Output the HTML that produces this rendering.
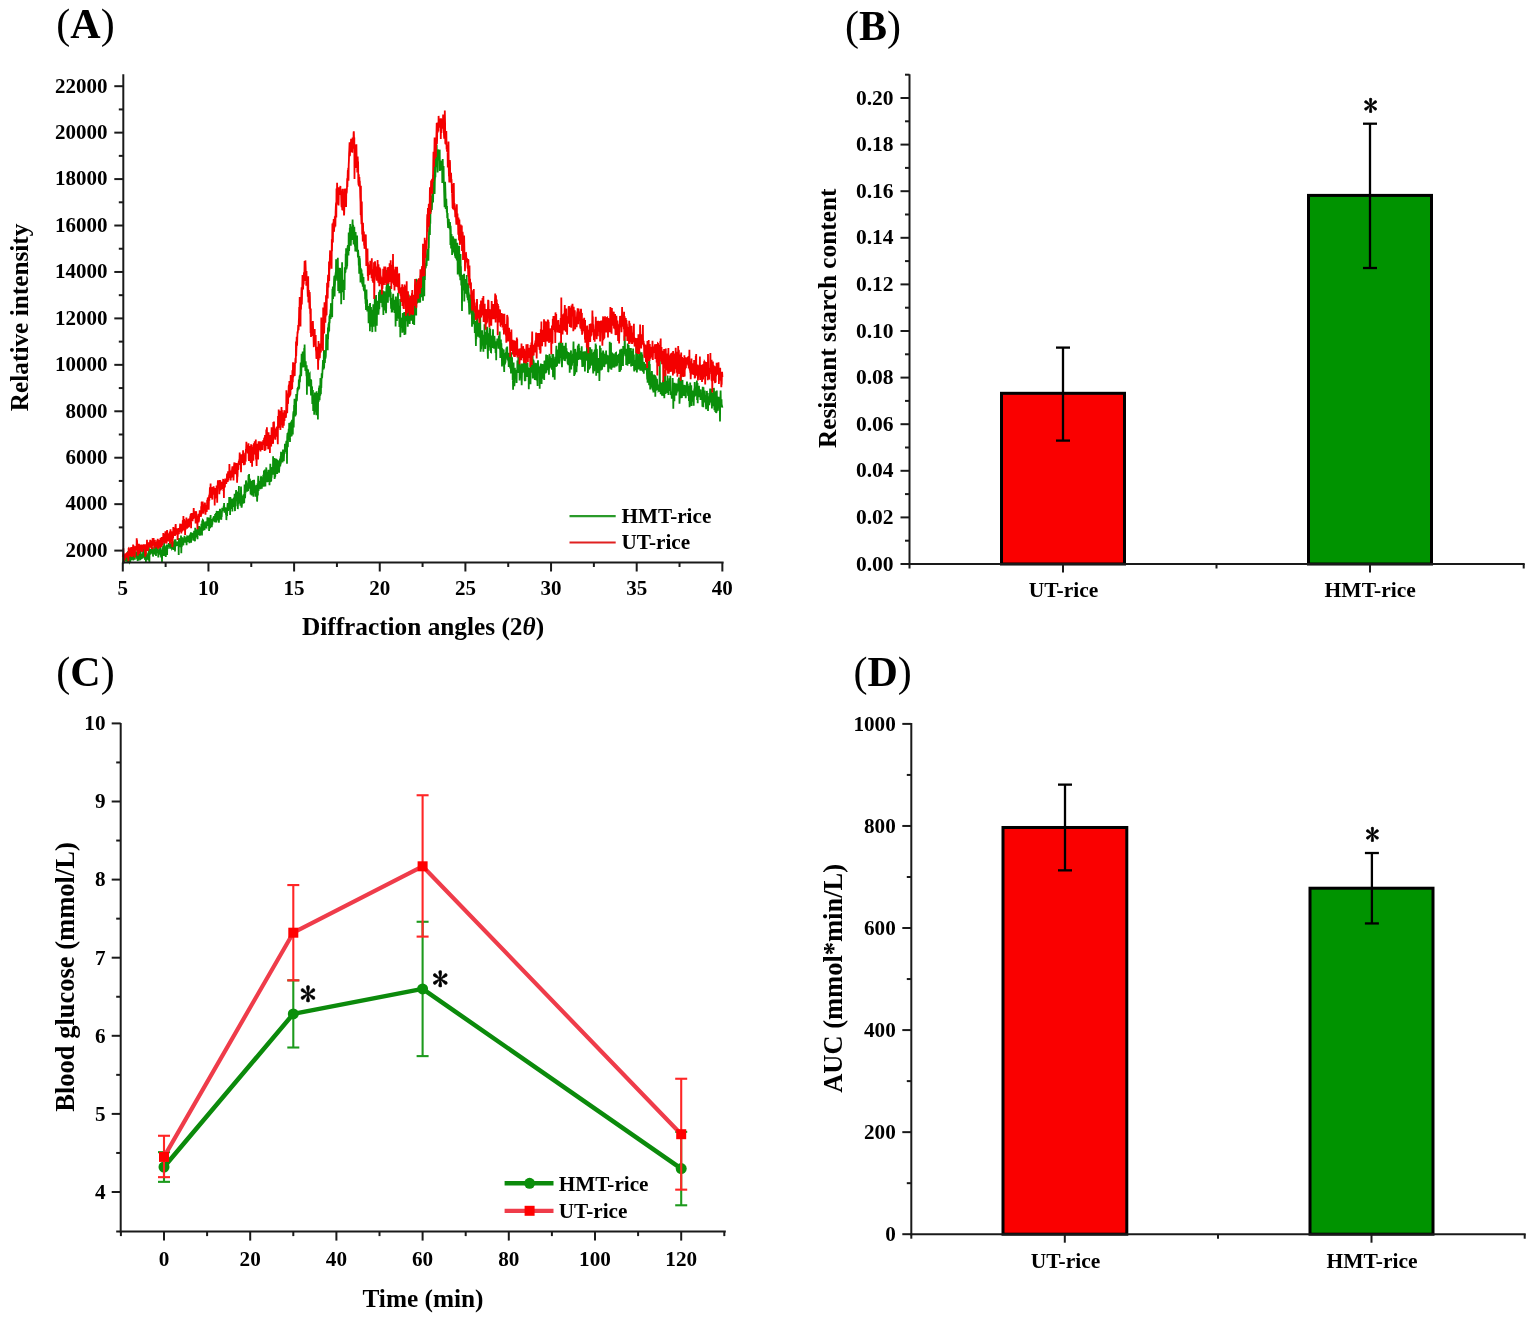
<!DOCTYPE html>
<html><head><meta charset="utf-8"><title>Figure</title>
<style>html,body{margin:0;padding:0;background:#fff;}svg{display:block}
text{font-family:'Liberation Serif','Times New Roman',serif;font-weight:bold;fill:#000}</style></head>
<body><svg width="1535" height="1324" viewBox="0 0 1535 1324">
<rect width="1535" height="1324" fill="#fff"/>
<g fill="none" stroke-linejoin="miter">
<path d="M122.8 561.6 123.0 562.0 123.2 561.3 123.4 555.9 123.7 562.0 123.9 561.0 124.1 557.8 124.3 561.4 124.5 560.6 124.7 560.6 124.9 558.9 125.2 560.5 125.4 556.1 125.6 558.2 125.8 557.4 126.0 561.5 126.2 558.5 126.4 557.4 126.7 556.1 126.9 558.0 127.1 558.6 127.3 558.0 127.5 562.0 127.7 562.0 127.9 551.2 128.2 553.5 128.4 558.8 128.6 558.6 128.8 561.1 129.0 561.7 129.2 562.0 129.4 556.4 129.7 558.3 129.9 562.0 130.1 562.0 130.3 561.6 130.5 557.2 130.7 554.1 130.9 559.9 131.2 559.0 131.4 554.6 131.6 556.5 131.8 558.5 132.0 555.9 132.2 558.5 132.4 558.3 132.6 557.0 132.9 555.3 133.1 559.4 133.3 560.4 133.5 558.0 133.7 554.5 133.9 559.3 134.1 555.7 134.4 559.7 134.6 553.2 134.8 559.6 135.0 556.4 135.2 551.4 135.4 554.4 135.6 555.5 135.9 553.7 136.1 552.8 136.3 552.9 136.5 556.8 136.7 554.7 136.9 557.1 137.1 559.2 137.4 551.0 137.6 560.3 137.8 560.8 138.0 555.8 138.2 556.6 138.4 558.8 138.6 557.0 138.9 560.4 139.1 556.2 139.3 552.4 139.5 556.2 139.7 554.1 139.9 558.1 140.1 556.9 140.4 550.5 140.6 549.9 140.8 558.7 141.0 558.5 141.2 553.9 141.4 555.9 141.6 557.2 141.9 554.1 142.1 558.8 142.3 556.4 142.5 554.4 142.7 554.0 142.9 557.7 143.1 548.1 143.4 555.7 143.6 555.8 143.8 550.9 144.0 557.0 144.2 553.7 144.4 558.4 144.6 554.8 144.9 557.9 145.1 559.9 145.3 557.1 145.5 552.8 145.7 551.4 145.9 562.0 146.1 556.7 146.4 554.5 146.6 557.7 146.8 556.4 147.0 559.8 147.2 557.4 147.4 556.8 147.6 554.3 147.9 557.8 148.1 552.8 148.3 558.1 148.5 560.5 148.7 550.6 148.9 546.9 149.1 557.3 149.4 562.0 149.6 550.0 149.8 549.0 150.0 554.8 150.2 549.9 150.4 551.3 150.6 551.5 150.9 554.2 151.1 550.8 151.3 552.8 151.5 550.9 151.7 548.9 151.9 550.7 152.1 549.4 152.3 551.9 152.6 548.5 152.8 548.3 153.0 556.6 153.2 552.2 153.4 552.6 153.6 554.8 153.8 551.9 154.1 551.6 154.3 553.9 154.5 553.4 154.7 548.4 154.9 554.5 155.1 550.5 155.3 548.3 155.6 548.8 155.8 549.6 156.0 555.9 156.2 546.7 156.4 551.4 156.6 544.3 156.8 550.2 157.1 553.2 157.3 549.3 157.5 548.1 157.7 551.0 157.9 552.1 158.1 551.8 158.3 557.5 158.6 554.3 158.8 549.3 159.0 551.5 159.2 551.9 159.4 552.8 159.6 552.6 159.8 553.1 160.1 546.5 160.3 554.8 160.5 551.3 160.7 549.5 160.9 554.9 161.1 557.4 161.3 554.7 161.6 555.8 161.8 550.4 162.0 562.0 162.2 554.0 162.4 547.6 162.6 548.7 162.8 551.5 163.1 545.7 163.3 552.1 163.5 549.8 163.7 555.8 163.9 554.8 164.1 542.6 164.3 550.9 164.6 545.2 164.8 553.6 165.0 550.7 165.2 551.5 165.4 546.3 165.6 555.7 165.8 556.9 166.1 546.5 166.3 551.3 166.5 546.9 166.7 548.9 166.9 544.5 167.1 554.9 167.3 545.3 167.6 547.1 167.8 548.9 168.0 544.7 168.2 546.4 168.4 545.4 168.6 547.1 168.8 543.1 169.1 544.7 169.3 545.5 169.5 544.6 169.7 546.2 169.9 544.6 170.1 548.7 170.3 544.8 170.5 545.0 170.8 543.5 171.0 544.3 171.2 542.0 171.4 548.5 171.6 543.3 171.8 544.7 172.0 548.4 172.3 548.0 172.5 545.5 172.7 541.0 172.9 549.0 173.1 548.5 173.3 542.3 173.5 550.0 173.8 544.4 174.0 542.9 174.2 546.8 174.4 545.3 174.6 545.9 174.8 539.6 175.0 551.4 175.3 543.0 175.5 539.3 175.7 546.4 175.9 543.0 176.1 545.5 176.3 542.5 176.5 543.5 176.8 545.3 177.0 541.6 177.2 545.9 177.4 542.8 177.6 541.9 177.8 544.6 178.0 545.3 178.3 543.5 178.5 541.4 178.7 555.0 178.9 538.1 179.1 539.8 179.3 543.4 179.5 538.8 179.8 543.3 180.0 543.6 180.2 547.2 180.4 540.6 180.6 542.3 180.8 545.4 181.0 535.4 181.3 553.3 181.5 541.4 181.7 541.9 181.9 546.6 182.1 543.2 182.3 537.3 182.5 544.3 182.8 545.5 183.0 541.0 183.2 541.3 183.4 545.2 183.6 538.8 183.8 542.6 184.0 541.8 184.3 538.7 184.5 535.8 184.7 539.9 184.9 537.2 185.1 542.8 185.3 539.9 185.5 541.9 185.8 539.7 186.0 540.3 186.2 537.3 186.4 542.2 186.6 545.1 186.8 538.0 187.0 537.1 187.3 537.7 187.5 536.4 187.7 535.7 187.9 537.8 188.1 536.3 188.3 541.9 188.5 537.9 188.8 538.9 189.0 541.8 189.2 537.5 189.4 543.2 189.6 536.0 189.8 535.0 190.0 536.3 190.2 538.0 190.5 533.6 190.7 538.4 190.9 532.2 191.1 542.8 191.3 537.3 191.5 535.4 191.7 534.2 192.0 536.5 192.2 536.4 192.4 533.6 192.6 532.8 192.8 535.1 193.0 534.3 193.2 539.7 193.5 540.4 193.7 536.4 193.9 537.4 194.1 530.9 194.3 537.2 194.5 536.1 194.7 537.9 195.0 541.3 195.2 527.7 195.4 536.2 195.6 536.0 195.8 537.3 196.0 530.1 196.2 532.7 196.5 535.2 196.7 536.6 196.9 533.8 197.1 530.7 197.3 530.9 197.5 539.3 197.7 532.1 198.0 526.2 198.2 535.0 198.4 532.7 198.6 534.9 198.8 530.3 199.0 534.6 199.2 526.0 199.5 533.3 199.7 529.8 199.9 535.6 200.1 534.9 200.3 527.3 200.5 529.7 200.7 529.2 201.0 533.2 201.2 530.9 201.4 523.9 201.6 529.7 201.8 530.0 202.0 535.5 202.2 520.6 202.5 527.3 202.7 531.0 202.9 520.2 203.1 520.4 203.3 526.2 203.5 527.1 203.7 521.4 204.0 526.2 204.2 524.8 204.4 530.2 204.6 525.2 204.8 529.5 205.0 522.4 205.2 525.1 205.5 524.8 205.7 528.0 205.9 526.1 206.1 521.4 206.3 526.8 206.5 527.1 206.7 524.2 207.0 523.3 207.2 523.9 207.4 517.2 207.6 524.5 207.8 524.4 208.0 520.0 208.2 525.9 208.5 517.6 208.7 521.0 208.9 521.3 209.1 530.9 209.3 517.9 209.5 526.8 209.7 527.7 209.9 525.2 210.2 528.3 210.4 519.1 210.6 515.0 210.8 526.8 211.0 519.1 211.2 522.1 211.4 519.0 211.7 527.0 211.9 525.6 212.1 519.2 212.3 524.8 212.5 521.1 212.7 520.0 212.9 519.7 213.2 517.6 213.4 520.3 213.6 519.3 213.8 516.3 214.0 521.5 214.2 516.0 214.4 516.7 214.7 517.7 214.9 522.0 215.1 513.9 215.3 522.5 215.5 516.5 215.7 515.1 215.9 513.0 216.2 518.2 216.4 522.4 216.6 511.7 216.8 511.0 217.0 513.5 217.2 517.9 217.4 519.5 217.7 520.3 217.9 518.6 218.1 516.9 218.3 513.6 218.5 511.0 218.7 517.9 218.9 522.7 219.2 516.8 219.4 511.5 219.6 512.7 219.8 510.2 220.0 508.9 220.2 511.5 220.4 513.1 220.7 519.1 220.9 512.6 221.1 518.3 221.3 519.8 221.5 511.6 221.7 516.9 221.9 512.8 222.2 507.7 222.4 510.5 222.6 509.7 222.8 509.7 223.0 509.2 223.2 510.4 223.4 511.1 223.7 505.8 223.9 508.8 224.1 503.1 224.3 510.6 224.5 512.6 224.7 510.5 224.9 510.7 225.2 512.6 225.4 507.4 225.6 509.4 225.8 512.8 226.0 514.7 226.2 512.0 226.4 520.1 226.7 510.0 226.9 515.0 227.1 515.0 227.3 508.7 227.5 505.3 227.7 503.1 227.9 509.2 228.1 511.0 228.4 506.6 228.6 507.3 228.8 504.6 229.0 508.5 229.2 497.1 229.4 506.3 229.6 505.1 229.9 499.7 230.1 514.9 230.3 497.1 230.5 498.6 230.7 499.1 230.9 509.1 231.1 500.5 231.4 507.3 231.6 505.8 231.8 504.6 232.0 498.7 232.2 500.3 232.4 511.4 232.6 498.8 232.9 500.5 233.1 503.7 233.3 507.0 233.5 503.7 233.7 505.2 233.9 497.5 234.1 506.0 234.4 504.1 234.6 493.8 234.8 507.9 235.0 511.1 235.2 497.9 235.4 501.7 235.6 506.4 235.9 494.1 236.1 490.1 236.3 493.4 236.5 495.6 236.7 494.8 236.9 500.9 237.1 491.5 237.4 492.7 237.6 501.1 237.8 509.1 238.0 503.9 238.2 503.4 238.4 503.0 238.6 502.8 238.9 485.9 239.1 501.4 239.3 497.9 239.5 503.3 239.7 500.2 239.9 493.2 240.1 499.7 240.4 505.6 240.6 494.4 240.8 497.4 241.0 486.6 241.2 494.0 241.4 506.2 241.6 507.7 241.9 505.2 242.1 501.7 242.3 498.8 242.5 499.9 242.7 495.4 242.9 502.9 243.1 502.9 243.4 501.7 243.6 494.3 243.8 496.5 244.0 495.0 244.2 503.3 244.4 494.6 244.6 484.4 244.9 493.8 245.1 498.2 245.3 492.3 245.5 493.5 245.7 489.7 245.9 480.6 246.1 481.0 246.4 483.0 246.6 488.0 246.8 489.4 247.0 491.8 247.2 486.5 247.4 491.4 247.6 485.1 247.8 483.6 248.1 490.9 248.3 483.4 248.5 474.9 248.7 483.2 248.9 488.8 249.1 474.0 249.3 486.0 249.6 486.7 249.8 482.0 250.0 481.6 250.2 485.9 250.4 486.1 250.6 494.6 250.8 490.0 251.1 480.9 251.3 482.7 251.5 490.0 251.7 495.5 251.9 488.9 252.1 488.9 252.3 495.4 252.6 487.1 252.8 484.6 253.0 480.1 253.2 484.4 253.4 496.8 253.6 480.9 253.8 487.2 254.1 479.9 254.3 486.7 254.5 490.6 254.7 486.3 254.9 492.1 255.1 492.3 255.3 492.1 255.6 496.8 255.8 492.1 256.0 487.8 256.2 485.6 256.4 485.2 256.6 490.4 256.8 487.9 257.1 501.6 257.3 496.4 257.5 485.9 257.7 486.2 257.9 495.6 258.1 479.2 258.3 475.9 258.6 491.0 258.8 481.4 259.0 480.9 259.2 483.0 259.4 488.0 259.6 485.1 259.8 485.5 260.1 486.2 260.3 485.3 260.5 489.2 260.7 479.8 260.9 477.3 261.1 476.9 261.3 477.1 261.6 481.7 261.8 488.8 262.0 485.2 262.2 481.4 262.4 478.6 262.6 481.6 262.8 480.8 263.1 478.9 263.3 474.7 263.5 479.4 263.7 486.8 263.9 470.6 264.1 479.2 264.3 470.6 264.6 481.1 264.8 476.7 265.0 469.4 265.2 478.9 265.4 486.6 265.6 477.1 265.8 481.6 266.0 476.6 266.3 467.4 266.5 480.6 266.7 476.8 266.9 471.8 267.1 482.1 267.3 479.0 267.5 474.9 267.8 482.0 268.0 473.8 268.2 479.7 268.4 469.8 268.6 479.0 268.8 471.4 269.0 482.1 269.3 479.4 269.5 485.3 269.7 473.5 269.9 476.1 270.1 481.2 270.3 463.8 270.5 472.2 270.8 482.0 271.0 479.5 271.2 481.3 271.4 474.2 271.6 477.6 271.8 472.9 272.0 468.6 272.3 467.1 272.5 472.7 272.7 471.4 272.9 471.2 273.1 456.3 273.3 463.8 273.5 474.7 273.8 472.8 274.0 467.7 274.2 465.3 274.4 458.0 274.6 478.9 274.8 464.2 275.0 477.3 275.3 476.0 275.5 468.4 275.7 464.8 275.9 468.1 276.1 460.8 276.3 458.7 276.5 465.4 276.8 468.4 277.0 471.0 277.2 474.0 277.4 463.8 277.6 471.6 277.8 461.1 278.0 461.3 278.3 463.0 278.5 460.5 278.7 470.8 278.9 471.4 279.1 472.7 279.3 464.9 279.5 465.3 279.8 461.0 280.0 458.5 280.2 466.4 280.4 464.5 280.6 456.3 280.8 464.2 281.0 451.8 281.3 458.5 281.5 457.5 281.7 456.2 281.9 452.4 282.1 462.0 282.3 459.2 282.5 462.4 282.8 457.2 283.0 449.6 283.2 455.2 283.4 450.2 283.6 459.2 283.8 461.2 284.0 456.2 284.3 450.7 284.5 452.2 284.7 453.7 284.9 443.8 285.1 450.9 285.3 451.9 285.5 447.2 285.7 447.4 286.0 449.3 286.2 442.4 286.4 441.0 286.6 449.1 286.8 444.8 287.0 463.8 287.2 437.3 287.5 433.1 287.7 446.9 287.9 446.4 288.1 436.5 288.3 431.8 288.5 439.7 288.7 428.7 289.0 434.3 289.2 423.0 289.4 432.8 289.6 422.8 289.8 432.4 290.0 441.9 290.2 432.3 290.5 437.1 290.7 428.4 290.9 425.5 291.1 421.6 291.3 435.4 291.5 428.3 291.7 436.3 292.0 419.7 292.2 423.8 292.4 425.4 292.6 433.7 292.8 434.5 293.0 419.2 293.2 414.6 293.5 411.3 293.7 427.6 293.9 416.9 294.1 405.1 294.3 414.1 294.5 398.7 294.7 400.8 295.0 416.5 295.2 411.9 295.4 416.2 295.6 400.7 295.8 409.2 296.0 414.9 296.2 393.9 296.5 401.5 296.7 397.2 296.9 400.8 297.1 395.8 297.3 394.1 297.5 388.0 297.7 391.4 298.0 386.9 298.2 388.3 298.4 387.2 298.6 389.7 298.8 380.3 299.0 380.3 299.2 388.7 299.5 377.9 299.7 375.7 299.9 382.3 300.1 377.1 300.3 374.6 300.5 374.1 300.7 362.5 301.0 371.9 301.2 376.1 301.4 369.9 301.6 353.7 301.8 363.6 302.0 354.7 302.2 356.8 302.5 358.9 302.7 351.4 302.9 367.5 303.1 357.9 303.3 363.9 303.5 362.5 303.7 365.8 303.9 365.9 304.2 348.0 304.4 359.4 304.6 344.4 304.8 356.9 305.0 365.8 305.2 367.3 305.4 370.9 305.7 361.3 305.9 366.6 306.1 366.6 306.3 373.1 306.5 376.3 306.7 365.2 306.9 394.7 307.2 370.3 307.4 368.9 307.6 374.6 307.8 376.2 308.0 374.8 308.2 369.5 308.4 385.2 308.7 374.3 308.9 385.4 309.1 386.3 309.3 378.8 309.5 374.1 309.7 373.8 309.9 384.1 310.2 383.8 310.4 386.1 310.6 379.0 310.8 388.5 311.0 395.5 311.2 379.7 311.4 386.9 311.7 391.7 311.9 389.1 312.1 388.8 312.3 404.0 312.5 402.5 312.7 400.3 312.9 389.9 313.2 411.1 313.4 400.6 313.6 394.7 313.8 397.4 314.0 397.1 314.2 414.7 314.4 403.5 314.7 405.3 314.9 392.4 315.1 411.7 315.3 400.4 315.5 400.2 315.7 411.0 315.9 401.8 316.2 412.4 316.4 415.3 316.6 391.3 316.8 406.2 317.0 404.3 317.2 406.2 317.4 412.5 317.7 397.7 317.9 419.4 318.1 401.3 318.3 393.1 318.5 398.2 318.7 401.9 318.9 387.7 319.2 395.5 319.4 385.4 319.6 400.2 319.8 392.8 320.0 386.5 320.2 395.7 320.4 378.1 320.7 382.2 320.9 394.3 321.1 379.1 321.3 388.1 321.5 380.1 321.7 373.4 321.9 376.1 322.2 376.4 322.4 372.7 322.6 368.2 322.8 365.2 323.0 360.0 323.2 364.1 323.4 368.9 323.6 369.4 323.9 349.9 324.1 368.2 324.3 361.2 324.5 350.5 324.7 360.0 324.9 362.9 325.1 358.4 325.4 358.3 325.6 357.6 325.8 356.2 326.0 348.7 326.2 334.2 326.4 342.6 326.6 348.2 326.9 340.7 327.1 346.0 327.3 346.6 327.5 339.1 327.7 350.2 327.9 327.4 328.1 339.2 328.4 327.3 328.6 323.6 328.8 332.2 329.0 322.0 329.2 331.1 329.4 315.8 329.6 323.3 329.9 314.4 330.1 317.3 330.3 314.0 330.5 309.6 330.7 319.0 330.9 303.9 331.1 303.5 331.4 314.6 331.6 313.8 331.8 311.2 332.0 306.4 332.2 317.3 332.4 289.1 332.6 291.0 332.9 286.5 333.1 298.9 333.3 292.8 333.5 296.4 333.7 294.1 333.9 285.1 334.1 279.0 334.4 275.9 334.6 296.4 334.8 287.3 335.0 284.2 335.2 275.8 335.4 275.3 335.6 273.6 335.9 273.9 336.1 259.2 336.3 275.8 336.5 275.1 336.7 278.3 336.9 276.5 337.1 280.6 337.4 274.3 337.6 280.7 337.8 257.7 338.0 269.7 338.2 290.9 338.4 270.3 338.6 277.9 338.9 287.5 339.1 275.1 339.3 293.2 339.5 270.5 339.7 267.9 339.9 271.5 340.1 268.1 340.4 281.7 340.6 280.2 340.8 286.9 341.0 277.8 341.2 304.2 341.4 284.9 341.6 284.5 341.8 287.7 342.1 262.3 342.3 279.6 342.5 283.6 342.7 291.2 342.9 289.3 343.1 292.1 343.3 281.5 343.6 279.7 343.8 300.1 344.0 282.1 344.2 286.4 344.4 285.8 344.6 290.1 344.8 267.2 345.1 272.4 345.3 272.4 345.5 271.9 345.7 253.8 345.9 269.5 346.1 248.2 346.3 269.4 346.6 268.2 346.8 267.4 347.0 253.5 347.2 266.2 347.4 250.2 347.6 247.0 347.8 245.9 348.1 245.7 348.3 250.4 348.5 255.5 348.7 232.5 348.9 242.1 349.1 251.0 349.3 244.6 349.6 244.6 349.8 227.7 350.0 243.3 350.2 224.0 350.4 235.6 350.6 241.4 350.8 245.7 351.1 236.2 351.3 238.3 351.5 227.1 351.7 227.2 351.9 240.1 352.1 229.9 352.3 228.8 352.6 219.5 352.8 230.4 353.0 234.5 353.2 224.8 353.4 229.0 353.6 244.6 353.8 236.5 354.1 234.6 354.3 226.9 354.5 233.8 354.7 236.0 354.9 246.6 355.1 232.9 355.3 251.5 355.6 232.0 355.8 238.2 356.0 248.1 356.2 242.2 356.4 239.8 356.6 246.1 356.8 251.7 357.1 235.6 357.3 248.8 357.5 250.3 357.7 249.5 357.9 257.6 358.1 250.4 358.3 253.3 358.6 258.1 358.8 265.5 359.0 260.8 359.2 273.7 359.4 256.1 359.6 265.2 359.8 258.4 360.1 264.9 360.3 268.7 360.5 282.4 360.7 277.2 360.9 268.3 361.1 282.4 361.3 272.0 361.5 269.6 361.8 278.3 362.0 276.2 362.2 284.3 362.4 273.6 362.6 282.1 362.8 286.6 363.0 285.0 363.3 281.8 363.5 276.9 363.7 289.7 363.9 286.3 364.1 291.1 364.3 285.7 364.5 290.6 364.8 284.6 365.0 293.4 365.2 299.3 365.4 296.2 365.6 303.7 365.8 300.2 366.0 309.9 366.3 299.8 366.5 289.4 366.7 305.3 366.9 303.0 367.1 299.5 367.3 311.5 367.5 309.5 367.8 310.4 368.0 306.1 368.2 310.2 368.4 310.2 368.6 323.2 368.8 307.3 369.0 313.3 369.3 316.3 369.5 314.9 369.7 304.1 369.9 331.2 370.1 303.1 370.3 322.9 370.5 313.5 370.8 315.4 371.0 307.1 371.2 315.6 371.4 326.8 371.6 309.8 371.8 322.0 372.0 321.4 372.3 332.1 372.5 312.1 372.7 325.3 372.9 322.7 373.1 313.6 373.3 304.2 373.5 326.8 373.8 306.6 374.0 311.5 374.2 319.5 374.4 321.1 374.6 307.7 374.8 296.3 375.0 311.8 375.3 321.7 375.5 331.8 375.7 300.2 375.9 320.5 376.1 294.9 376.3 314.2 376.5 305.1 376.8 325.8 377.0 310.6 377.2 303.8 377.4 303.9 377.6 300.7 377.8 307.0 378.0 303.8 378.3 309.6 378.5 314.8 378.7 310.3 378.9 295.1 379.1 291.7 379.3 309.2 379.5 301.2 379.8 295.9 380.0 289.7 380.2 300.2 380.4 289.8 380.6 291.8 380.8 302.7 381.0 297.6 381.2 298.3 381.5 302.9 381.7 296.4 381.9 293.9 382.1 294.4 382.3 307.2 382.5 298.5 382.7 290.3 383.0 298.4 383.2 305.4 383.4 314.9 383.6 292.3 383.8 303.0 384.0 299.4 384.2 306.2 384.5 291.3 384.7 310.6 384.9 302.3 385.1 295.1 385.3 293.6 385.5 301.1 385.7 300.2 386.0 313.2 386.2 307.8 386.4 286.5 386.6 296.3 386.8 283.1 387.0 270.0 387.2 296.5 387.5 294.4 387.7 280.9 387.9 302.8 388.1 284.6 388.3 283.0 388.5 297.1 388.7 294.3 389.0 291.7 389.2 291.4 389.4 294.9 389.6 293.1 389.8 293.5 390.0 291.2 390.2 286.0 390.5 300.8 390.7 292.3 390.9 302.8 391.1 308.7 391.3 298.1 391.5 301.1 391.7 312.4 392.0 303.6 392.2 312.2 392.4 309.8 392.6 305.1 392.8 301.1 393.0 296.3 393.2 293.7 393.5 306.7 393.7 307.0 393.9 301.2 394.1 310.1 394.3 299.7 394.5 312.9 394.7 304.7 395.0 305.4 395.2 306.2 395.4 307.0 395.6 326.4 395.8 296.4 396.0 310.1 396.2 318.3 396.5 313.2 396.7 304.4 396.9 320.9 397.1 299.9 397.3 299.4 397.5 313.3 397.7 298.9 398.0 292.9 398.2 318.0 398.4 317.4 398.6 317.7 398.8 309.3 399.0 313.3 399.2 305.8 399.4 327.1 399.7 321.4 399.9 320.2 400.1 298.9 400.3 337.2 400.5 327.4 400.7 327.1 400.9 324.9 401.2 320.4 401.4 317.8 401.6 325.0 401.8 321.8 402.0 321.9 402.2 317.5 402.4 332.8 402.7 313.0 402.9 320.4 403.1 316.0 403.3 326.5 403.5 330.6 403.7 330.5 403.9 328.0 404.2 311.9 404.4 335.0 404.6 328.1 404.8 318.0 405.0 318.8 405.2 318.1 405.4 334.6 405.7 320.6 405.9 314.9 406.1 298.2 406.3 316.9 406.5 319.7 406.7 320.8 406.9 315.5 407.2 318.9 407.4 321.3 407.6 308.3 407.8 326.7 408.0 299.2 408.2 302.9 408.4 305.3 408.7 294.5 408.9 303.1 409.1 320.8 409.3 322.8 409.5 312.8 409.7 324.1 409.9 314.3 410.2 309.5 410.4 313.6 410.6 311.4 410.8 317.7 411.0 302.3 411.2 320.7 411.4 310.9 411.7 319.0 411.9 315.2 412.1 309.8 412.3 312.8 412.5 319.0 412.7 303.0 412.9 323.9 413.2 315.8 413.4 307.6 413.6 319.2 413.8 311.2 414.0 317.3 414.2 324.9 414.4 312.5 414.7 302.6 414.9 301.0 415.1 307.5 415.3 304.6 415.5 297.0 415.7 297.2 415.9 305.6 416.2 315.5 416.4 278.7 416.6 302.0 416.8 293.7 417.0 302.5 417.2 302.5 417.4 296.1 417.7 288.6 417.9 284.9 418.1 281.6 418.3 302.7 418.5 293.7 418.7 290.1 418.9 292.3 419.1 282.7 419.4 294.7 419.6 302.6 419.8 301.9 420.0 282.6 420.2 302.5 420.4 286.2 420.6 275.4 420.9 278.9 421.1 279.9 421.3 286.0 421.5 278.5 421.7 274.7 421.9 282.6 422.1 297.2 422.4 278.5 422.6 285.2 422.8 282.7 423.0 300.7 423.2 266.0 423.4 286.8 423.6 267.5 423.9 272.6 424.1 274.3 424.3 296.3 424.5 266.7 424.7 256.4 424.9 279.9 425.1 263.1 425.4 266.5 425.6 268.4 425.8 267.5 426.0 263.1 426.2 265.6 426.4 264.0 426.6 266.2 426.9 255.8 427.1 251.6 427.3 248.9 427.5 258.5 427.7 253.6 427.9 256.9 428.1 254.3 428.4 260.7 428.6 246.2 428.8 248.0 429.0 231.6 429.2 228.3 429.4 231.8 429.6 223.7 429.9 235.0 430.1 217.7 430.3 223.9 430.5 204.0 430.7 210.2 430.9 212.2 431.1 210.9 431.4 195.5 431.6 207.1 431.8 209.9 432.0 206.4 432.2 196.9 432.4 194.0 432.6 186.8 432.9 199.2 433.1 202.5 433.3 185.9 433.5 174.8 433.7 186.6 433.9 188.2 434.1 160.2 434.4 180.3 434.6 193.9 434.8 181.5 435.0 178.0 435.2 173.9 435.4 177.2 435.6 159.7 435.9 156.9 436.1 164.9 436.3 155.6 436.5 160.8 436.7 144.5 436.9 167.2 437.1 163.7 437.3 158.3 437.6 172.4 437.8 169.7 438.0 149.7 438.2 150.2 438.4 149.8 438.6 154.6 438.8 151.8 439.1 160.4 439.3 155.8 439.5 149.8 439.7 150.3 439.9 171.0 440.1 161.2 440.3 160.6 440.6 163.0 440.8 162.6 441.0 169.3 441.2 169.3 441.4 162.4 441.6 162.1 441.8 162.6 442.1 161.9 442.3 183.0 442.5 166.9 442.7 159.1 442.9 168.0 443.1 170.1 443.3 178.4 443.6 165.9 443.8 183.1 444.0 184.2 444.2 192.7 444.4 200.4 444.6 207.1 444.8 197.2 445.1 181.8 445.3 188.1 445.5 193.9 445.7 208.9 445.9 200.3 446.1 206.3 446.3 198.9 446.6 208.7 446.8 212.4 447.0 206.1 447.2 217.5 447.4 217.7 447.6 213.1 447.8 222.4 448.1 227.9 448.3 218.9 448.5 220.8 448.7 219.3 448.9 219.9 449.1 228.1 449.3 225.4 449.6 229.3 449.8 226.5 450.0 222.0 450.2 226.8 450.4 245.1 450.6 225.7 450.8 230.8 451.1 248.5 451.3 246.3 451.5 234.1 451.7 246.3 451.9 238.1 452.1 255.1 452.3 240.1 452.6 244.6 452.8 253.4 453.0 236.3 453.2 252.0 453.4 237.8 453.6 245.6 453.8 242.3 454.1 245.3 454.3 247.0 454.5 244.9 454.7 238.7 454.9 253.1 455.1 252.8 455.3 257.0 455.6 257.3 455.8 238.7 456.0 257.5 456.2 258.5 456.4 244.1 456.6 248.0 456.8 260.4 457.0 246.6 457.3 242.8 457.5 251.3 457.7 274.5 457.9 257.0 458.1 247.1 458.3 256.5 458.5 252.7 458.8 258.1 459.0 263.0 459.2 245.7 459.4 266.6 459.6 276.5 459.8 266.8 460.0 268.7 460.3 280.2 460.5 253.9 460.7 266.8 460.9 266.2 461.1 275.3 461.3 285.5 461.5 277.8 461.8 284.7 462.0 311.0 462.2 283.9 462.4 274.9 462.6 279.1 462.8 290.5 463.0 274.7 463.3 280.9 463.5 280.6 463.7 281.7 463.9 275.4 464.1 273.8 464.3 301.5 464.5 290.2 464.8 278.9 465.0 286.2 465.2 291.0 465.4 285.3 465.6 293.7 465.8 284.6 466.0 288.4 466.3 291.1 466.5 288.0 466.7 275.0 466.9 292.9 467.1 294.8 467.3 297.6 467.5 288.5 467.8 300.3 468.0 298.6 468.2 285.7 468.4 283.2 468.6 302.8 468.8 292.5 469.0 305.8 469.3 314.5 469.5 297.1 469.7 295.2 469.9 299.9 470.1 306.4 470.3 294.5 470.5 312.6 470.8 311.4 471.0 309.0 471.2 302.6 471.4 313.0 471.6 314.7 471.8 302.4 472.0 326.7 472.3 309.2 472.5 315.8 472.7 312.0 472.9 319.5 473.1 324.1 473.3 311.6 473.5 307.0 473.8 317.3 474.0 312.2 474.2 317.5 474.4 323.1 474.6 324.8 474.8 333.1 475.0 330.7 475.2 328.4 475.5 321.1 475.7 335.7 475.9 345.9 476.1 330.3 476.3 339.3 476.5 323.5 476.7 324.2 477.0 318.8 477.2 316.9 477.4 321.5 477.6 327.1 477.8 336.6 478.0 334.6 478.2 334.2 478.5 329.9 478.7 329.1 478.9 334.2 479.1 322.5 479.3 336.0 479.5 337.6 479.7 336.1 480.0 322.4 480.2 314.3 480.4 333.6 480.6 351.8 480.8 341.0 481.0 343.5 481.2 349.2 481.5 340.8 481.7 335.4 481.9 343.4 482.1 330.2 482.3 338.7 482.5 344.6 482.7 342.1 483.0 345.2 483.2 344.6 483.4 351.8 483.6 334.7 483.8 339.3 484.0 344.2 484.2 347.8 484.5 324.3 484.7 339.0 484.9 341.4 485.1 336.7 485.3 348.9 485.5 344.8 485.7 340.5 486.0 332.0 486.2 334.8 486.4 336.2 486.6 344.8 486.8 332.3 487.0 326.9 487.2 330.6 487.5 337.2 487.7 353.1 487.9 358.8 488.1 336.2 488.3 346.2 488.5 349.0 488.7 350.6 489.0 341.5 489.2 332.9 489.4 337.3 489.6 327.5 489.8 342.9 490.0 346.9 490.2 328.9 490.5 341.8 490.7 344.9 490.9 352.2 491.1 352.3 491.3 346.7 491.5 335.8 491.7 336.9 492.0 348.1 492.2 335.4 492.4 337.2 492.6 348.0 492.8 339.0 493.0 329.2 493.2 337.8 493.5 344.5 493.7 338.3 493.9 346.9 494.1 348.6 494.3 336.0 494.5 336.7 494.7 339.8 494.9 345.6 495.2 347.4 495.4 345.5 495.6 353.1 495.8 343.9 496.0 341.8 496.2 360.2 496.4 341.2 496.7 343.1 496.9 341.5 497.1 342.6 497.3 338.6 497.5 344.9 497.7 339.2 497.9 340.1 498.2 345.8 498.4 348.8 498.6 344.8 498.8 335.8 499.0 344.3 499.2 340.5 499.4 341.9 499.7 331.5 499.9 349.4 500.1 343.6 500.3 358.0 500.5 350.6 500.7 341.0 500.9 339.5 501.2 357.2 501.4 343.3 501.6 354.5 501.8 349.4 502.0 366.4 502.2 354.0 502.4 364.8 502.7 363.6 502.9 350.0 503.1 350.3 503.3 363.4 503.5 354.5 503.7 349.6 503.9 363.4 504.2 372.0 504.4 353.0 504.6 364.6 504.8 353.6 505.0 364.5 505.2 353.3 505.4 362.7 505.7 358.1 505.9 352.4 506.1 354.9 506.3 350.0 506.5 347.6 506.7 348.7 506.9 354.9 507.2 346.5 507.4 356.5 507.6 359.0 507.8 359.7 508.0 353.8 508.2 361.3 508.4 356.6 508.7 367.0 508.9 352.7 509.1 356.8 509.3 357.4 509.5 359.3 509.7 357.5 509.9 357.5 510.2 368.5 510.4 356.9 510.6 367.9 510.8 365.3 511.0 373.4 511.2 352.2 511.4 369.9 511.7 368.9 511.9 372.0 512.1 357.3 512.3 373.4 512.5 362.7 512.7 380.1 512.9 379.4 513.1 389.8 513.4 369.2 513.6 362.5 513.8 379.4 514.0 380.6 514.2 373.1 514.4 386.1 514.6 381.7 514.9 367.9 515.1 374.2 515.3 373.4 515.5 374.6 515.7 375.7 515.9 370.9 516.1 372.9 516.4 376.6 516.6 383.0 516.8 370.4 517.0 370.3 517.2 371.2 517.4 360.4 517.6 370.7 517.9 362.4 518.1 368.1 518.3 356.5 518.5 372.9 518.7 369.9 518.9 359.0 519.1 369.6 519.4 364.2 519.6 380.5 519.8 373.2 520.0 365.7 520.2 373.1 520.4 371.6 520.6 378.3 520.9 373.2 521.1 373.6 521.3 363.6 521.5 375.3 521.7 385.2 521.9 376.2 522.1 371.2 522.4 371.9 522.6 365.2 522.8 372.8 523.0 363.5 523.2 370.2 523.4 366.7 523.6 363.6 523.9 371.5 524.1 356.9 524.3 368.0 524.5 350.4 524.7 379.6 524.9 381.1 525.1 374.2 525.4 380.9 525.6 371.9 525.8 371.6 526.0 364.5 526.2 362.0 526.4 370.2 526.6 365.9 526.9 368.2 527.1 376.9 527.3 370.3 527.5 362.6 527.7 374.0 527.9 370.4 528.1 373.0 528.4 368.8 528.6 376.5 528.8 389.2 529.0 367.6 529.2 379.4 529.4 379.4 529.6 368.4 529.9 375.1 530.1 383.7 530.3 379.7 530.5 384.2 530.7 364.0 530.9 366.9 531.1 372.7 531.4 370.6 531.6 368.2 531.8 366.5 532.0 365.4 532.2 352.9 532.4 370.9 532.6 350.0 532.8 378.6 533.1 365.7 533.3 359.6 533.5 373.9 533.7 360.5 533.9 372.4 534.1 366.9 534.3 375.7 534.6 377.4 534.8 380.0 535.0 369.0 535.2 370.7 535.4 373.1 535.6 362.7 535.8 376.4 536.1 372.9 536.3 363.8 536.5 380.6 536.7 373.1 536.9 363.3 537.1 374.7 537.3 380.3 537.6 385.9 537.8 364.7 538.0 360.3 538.2 368.4 538.4 365.5 538.6 369.1 538.8 369.1 539.1 372.3 539.3 366.6 539.5 368.4 539.7 388.7 539.9 367.0 540.1 373.0 540.3 370.4 540.6 370.7 540.8 363.5 541.0 371.5 541.2 368.3 541.4 375.9 541.6 384.1 541.8 372.3 542.1 377.1 542.3 364.0 542.5 369.5 542.7 378.8 542.9 367.5 543.1 364.2 543.3 370.2 543.6 369.5 543.8 368.6 544.0 367.8 544.2 380.0 544.4 360.7 544.6 363.5 544.8 360.5 545.1 371.9 545.3 363.0 545.5 373.4 545.7 366.2 545.9 364.3 546.1 354.4 546.3 372.8 546.6 368.2 546.8 366.9 547.0 363.0 547.2 359.6 547.4 355.1 547.6 370.1 547.8 366.1 548.1 362.2 548.3 359.9 548.5 366.0 548.7 363.8 548.9 374.7 549.1 367.0 549.3 357.1 549.6 353.9 549.8 361.2 550.0 356.4 550.2 362.4 550.4 365.2 550.6 367.2 550.8 366.7 551.1 362.2 551.3 368.5 551.5 358.0 551.7 362.8 551.9 369.6 552.1 366.0 552.3 355.7 552.5 356.0 552.8 354.1 553.0 377.2 553.2 354.3 553.4 362.3 553.6 376.1 553.8 371.0 554.0 371.9 554.3 358.7 554.5 365.2 554.7 379.7 554.9 359.3 555.1 362.5 555.3 356.8 555.5 359.0 555.8 360.9 556.0 367.0 556.2 350.3 556.4 345.7 556.6 355.8 556.8 357.6 557.0 366.3 557.3 361.4 557.5 352.1 557.7 349.4 557.9 363.5 558.1 358.2 558.3 353.6 558.5 360.0 558.8 353.4 559.0 342.8 559.2 363.8 559.4 346.3 559.6 352.5 559.8 349.5 560.0 354.4 560.3 354.2 560.5 341.5 560.7 358.0 560.9 352.8 561.1 352.6 561.3 360.3 561.5 361.4 561.8 363.8 562.0 367.3 562.2 356.8 562.4 342.7 562.6 355.4 562.8 353.2 563.0 353.0 563.3 348.4 563.5 346.8 563.7 358.5 563.9 359.3 564.1 345.8 564.3 358.0 564.5 360.9 564.8 353.4 565.0 361.1 565.2 355.7 565.4 352.0 565.6 356.4 565.8 342.7 566.0 352.3 566.3 352.9 566.5 348.2 566.7 357.9 566.9 358.3 567.1 351.2 567.3 354.4 567.5 361.7 567.8 364.2 568.0 352.1 568.2 358.5 568.4 365.2 568.6 357.3 568.8 354.0 569.0 353.0 569.3 357.4 569.5 352.5 569.7 372.7 569.9 355.5 570.1 361.2 570.3 361.3 570.5 364.2 570.7 357.3 571.0 350.4 571.2 369.6 571.4 356.7 571.6 358.2 571.8 359.1 572.0 365.7 572.2 361.3 572.5 361.5 572.7 359.3 572.9 353.8 573.1 357.2 573.3 350.2 573.5 341.6 573.7 354.2 574.0 349.2 574.2 376.0 574.4 369.5 574.6 368.1 574.8 356.5 575.0 374.4 575.2 348.9 575.5 352.0 575.7 354.7 575.9 352.3 576.1 359.3 576.3 360.6 576.5 372.2 576.7 364.6 577.0 366.5 577.2 362.0 577.4 354.2 577.6 353.5 577.8 345.4 578.0 350.6 578.2 353.3 578.5 359.9 578.7 343.7 578.9 346.3 579.1 357.6 579.3 348.1 579.5 359.4 579.7 355.8 580.0 354.2 580.2 350.7 580.4 357.6 580.6 353.3 580.8 353.8 581.0 354.7 581.2 358.9 581.5 359.8 581.7 346.3 581.9 356.5 582.1 361.9 582.3 366.9 582.5 364.4 582.7 359.7 583.0 351.9 583.2 353.8 583.4 364.9 583.6 353.4 583.8 365.0 584.0 366.7 584.2 351.2 584.5 360.4 584.7 357.5 584.9 371.5 585.1 363.9 585.3 353.5 585.5 359.9 585.7 351.2 586.0 357.0 586.2 358.9 586.4 359.7 586.6 360.5 586.8 352.0 587.0 345.8 587.2 356.4 587.5 353.3 587.7 354.1 587.9 372.9 588.1 368.1 588.3 358.2 588.5 350.3 588.7 347.0 589.0 364.2 589.2 369.6 589.4 356.4 589.6 362.4 589.8 363.6 590.0 368.2 590.2 347.2 590.4 361.0 590.7 363.0 590.9 365.6 591.1 361.1 591.3 351.5 591.5 355.9 591.7 349.3 591.9 361.6 592.2 361.9 592.4 364.7 592.6 354.4 592.8 352.7 593.0 369.1 593.2 373.4 593.4 370.6 593.7 362.8 593.9 351.8 594.1 367.6 594.3 371.3 594.5 359.5 594.7 349.6 594.9 369.0 595.2 363.1 595.4 364.8 595.6 343.6 595.8 365.7 596.0 345.0 596.2 375.8 596.4 368.5 596.7 349.2 596.9 349.6 597.1 360.2 597.3 372.8 597.5 372.3 597.7 358.0 597.9 368.9 598.2 366.7 598.4 364.8 598.6 364.8 598.8 358.0 599.0 369.4 599.2 371.6 599.4 381.0 599.7 367.8 599.9 345.5 600.1 354.2 600.3 366.0 600.5 362.9 600.7 347.9 600.9 370.5 601.2 359.3 601.4 360.3 601.6 358.4 601.8 365.7 602.0 369.8 602.2 364.7 602.4 352.4 602.7 353.5 602.9 354.5 603.1 350.6 603.3 356.6 603.5 357.1 603.7 352.5 603.9 366.0 604.2 366.4 604.4 367.0 604.6 359.9 604.8 362.0 605.0 356.0 605.2 354.1 605.4 357.6 605.7 364.4 605.9 357.7 606.1 350.5 606.3 360.2 606.5 363.6 606.7 360.8 606.9 354.7 607.2 359.8 607.4 357.1 607.6 357.0 607.8 359.3 608.0 365.3 608.2 372.0 608.4 371.6 608.6 365.1 608.9 357.0 609.1 357.2 609.3 358.0 609.5 368.4 609.7 341.7 609.9 359.9 610.1 344.5 610.4 357.8 610.6 368.8 610.8 362.4 611.0 342.8 611.2 367.7 611.4 369.6 611.6 363.5 611.9 367.4 612.1 352.6 612.3 364.4 612.5 367.8 612.7 361.2 612.9 358.8 613.1 365.4 613.4 365.0 613.6 353.4 613.8 366.9 614.0 363.2 614.2 358.6 614.4 367.5 614.6 366.1 614.9 364.4 615.1 355.2 615.3 364.8 615.5 353.8 615.7 353.2 615.9 352.8 616.1 352.7 616.4 366.5 616.6 361.7 616.8 362.9 617.0 365.7 617.2 362.8 617.4 355.1 617.6 362.8 617.9 360.0 618.1 357.3 618.3 359.3 618.5 356.7 618.7 354.0 618.9 355.5 619.1 360.4 619.4 371.9 619.6 353.0 619.8 362.0 620.0 349.5 620.2 371.4 620.4 357.7 620.6 361.0 620.9 370.0 621.1 366.5 621.3 348.7 621.5 362.8 621.7 356.8 621.9 362.7 622.1 360.7 622.4 365.4 622.6 362.4 622.8 357.6 623.0 365.9 623.2 345.9 623.4 353.6 623.6 349.0 623.9 354.1 624.1 352.2 624.3 353.5 624.5 351.3 624.7 335.6 624.9 342.9 625.1 354.1 625.4 356.2 625.6 349.7 625.8 349.0 626.0 350.1 626.2 365.1 626.4 356.4 626.6 358.5 626.9 354.0 627.1 351.5 627.3 349.1 627.5 365.8 627.7 343.6 627.9 357.2 628.1 360.8 628.3 352.8 628.6 345.0 628.8 349.0 629.0 364.0 629.2 353.3 629.4 363.1 629.6 360.2 629.8 361.2 630.1 361.2 630.3 348.1 630.5 352.5 630.7 361.2 630.9 347.9 631.1 366.6 631.3 351.9 631.6 357.3 631.8 351.5 632.0 361.0 632.2 354.6 632.4 356.9 632.6 351.1 632.8 366.1 633.1 348.5 633.3 363.5 633.5 362.7 633.7 365.7 633.9 354.5 634.1 369.8 634.3 371.4 634.6 366.6 634.8 368.6 635.0 365.0 635.2 370.3 635.4 359.9 635.6 369.2 635.8 367.0 636.1 355.1 636.3 346.7 636.5 363.9 636.7 363.6 636.9 372.4 637.1 363.9 637.3 358.5 637.6 353.5 637.8 363.4 638.0 359.6 638.2 356.5 638.4 362.2 638.6 369.4 638.8 363.0 639.1 355.8 639.3 364.9 639.5 355.2 639.7 351.5 639.9 366.2 640.1 360.2 640.3 370.8 640.6 364.2 640.8 356.7 641.0 364.5 641.2 370.6 641.4 355.0 641.6 352.4 641.8 355.6 642.1 355.5 642.3 355.8 642.5 354.5 642.7 367.1 642.9 371.7 643.1 361.8 643.3 370.0 643.6 369.8 643.8 373.8 644.0 362.1 644.2 363.8 644.4 363.8 644.6 365.9 644.8 367.3 645.1 368.6 645.3 364.8 645.5 370.1 645.7 364.1 645.9 368.9 646.1 367.4 646.3 365.9 646.5 369.8 646.8 370.4 647.0 375.5 647.2 379.4 647.4 366.5 647.6 382.7 647.8 361.6 648.0 378.5 648.3 382.7 648.5 375.1 648.7 378.8 648.9 376.0 649.1 385.2 649.3 358.3 649.5 382.3 649.8 364.0 650.0 378.8 650.2 389.5 650.4 387.1 650.6 383.7 650.8 381.2 651.0 373.7 651.3 386.8 651.5 383.9 651.7 373.0 651.9 371.1 652.1 374.9 652.3 387.5 652.5 387.5 652.8 390.4 653.0 375.4 653.2 380.3 653.4 392.4 653.6 385.8 653.8 388.7 654.0 374.5 654.3 382.4 654.5 386.3 654.7 383.5 654.9 383.2 655.1 375.2 655.3 396.7 655.5 386.0 655.8 376.6 656.0 390.6 656.2 385.5 656.4 390.1 656.6 384.3 656.8 379.5 657.0 379.6 657.3 385.9 657.5 388.5 657.7 387.3 657.9 387.1 658.1 390.2 658.3 384.6 658.5 390.5 658.8 390.1 659.0 385.8 659.2 384.6 659.4 385.4 659.6 376.9 659.8 359.3 660.0 392.0 660.3 382.7 660.5 384.6 660.7 394.3 660.9 390.0 661.1 385.6 661.3 391.0 661.5 383.0 661.8 385.6 662.0 395.8 662.2 391.1 662.4 382.3 662.6 386.7 662.8 390.2 663.0 382.6 663.3 380.4 663.5 396.0 663.7 381.9 663.9 375.2 664.1 384.7 664.3 398.3 664.5 388.4 664.8 388.8 665.0 370.0 665.2 381.4 665.4 393.9 665.6 382.4 665.8 393.4 666.0 387.2 666.2 387.3 666.5 385.7 666.7 380.8 666.9 381.8 667.1 385.3 667.3 387.2 667.5 375.4 667.7 392.9 668.0 385.0 668.2 383.3 668.4 394.9 668.6 380.7 668.8 391.0 669.0 384.5 669.2 387.8 669.5 378.4 669.7 383.6 669.9 388.1 670.1 381.3 670.3 375.7 670.5 386.6 670.7 395.1 671.0 392.9 671.2 394.2 671.4 392.1 671.6 395.3 671.8 398.8 672.0 391.5 672.2 392.9 672.5 394.2 672.7 377.9 672.9 387.7 673.1 389.2 673.3 408.8 673.5 390.5 673.7 398.9 674.0 388.6 674.2 390.5 674.4 401.3 674.6 382.7 674.8 390.4 675.0 389.3 675.2 390.8 675.5 389.1 675.7 395.6 675.9 385.4 676.1 383.5 676.3 395.4 676.5 383.5 676.7 393.1 677.0 390.5 677.2 386.1 677.4 386.5 677.6 388.0 677.8 391.5 678.0 384.5 678.2 385.6 678.5 379.0 678.7 386.6 678.9 377.5 679.1 388.9 679.3 387.0 679.5 403.8 679.7 398.7 680.0 387.9 680.2 395.7 680.4 391.7 680.6 383.6 680.8 374.8 681.0 398.2 681.2 394.3 681.5 379.7 681.7 395.8 681.9 398.1 682.1 387.0 682.3 396.3 682.5 379.9 682.7 389.2 683.0 384.8 683.2 394.6 683.4 392.9 683.6 392.2 683.8 393.6 684.0 385.2 684.2 396.0 684.4 384.9 684.7 393.1 684.9 388.2 685.1 387.3 685.3 392.9 685.5 392.6 685.7 398.1 685.9 395.9 686.2 385.2 686.4 392.4 686.6 391.2 686.8 383.6 687.0 381.6 687.2 391.1 687.4 387.6 687.7 383.7 687.9 393.7 688.1 396.0 688.3 393.8 688.5 385.8 688.7 392.3 688.9 400.9 689.2 387.1 689.4 390.0 689.6 407.3 689.8 395.9 690.0 391.5 690.2 382.6 690.4 398.8 690.7 387.9 690.9 396.4 691.1 390.8 691.3 385.2 691.5 406.0 691.7 395.6 691.9 401.6 692.2 399.8 692.4 390.6 692.6 396.4 692.8 394.2 693.0 401.7 693.2 399.0 693.4 394.1 693.7 405.8 693.9 397.6 694.1 396.7 694.3 388.5 694.5 396.3 694.7 382.0 694.9 396.4 695.2 388.2 695.4 393.7 695.6 392.1 695.8 394.9 696.0 395.5 696.2 392.8 696.4 392.3 696.7 383.8 696.9 380.6 697.1 400.0 697.3 394.0 697.5 383.1 697.7 403.2 697.9 388.0 698.2 395.7 698.4 394.2 698.6 392.6 698.8 397.2 699.0 385.8 699.2 393.9 699.4 393.1 699.7 396.5 699.9 393.5 700.1 390.4 700.3 390.7 700.5 400.0 700.7 389.5 700.9 397.7 701.2 396.7 701.4 395.5 701.6 398.0 701.8 398.7 702.0 393.0 702.2 398.2 702.4 406.7 702.7 386.8 702.9 391.8 703.1 389.7 703.3 407.2 703.5 387.2 703.7 396.8 703.9 402.4 704.1 392.9 704.4 396.3 704.6 394.5 704.8 390.5 705.0 397.2 705.2 402.4 705.4 397.2 705.6 400.6 705.9 404.7 706.1 409.2 706.3 395.1 706.5 407.1 706.7 399.4 706.9 390.9 707.1 397.0 707.4 405.4 707.6 403.3 707.8 392.9 708.0 411.1 708.2 402.6 708.4 401.0 708.6 399.2 708.9 403.4 709.1 396.2 709.3 405.1 709.5 399.6 709.7 402.0 709.9 396.0 710.1 388.5 710.4 400.8 710.6 389.4 710.8 396.2 711.0 397.3 711.2 391.7 711.4 403.3 711.6 388.7 711.9 408.6 712.1 393.8 712.3 402.5 712.5 404.9 712.7 393.1 712.9 395.3 713.1 406.3 713.4 400.8 713.6 400.3 713.8 387.9 714.0 389.3 714.2 405.0 714.4 410.3 714.6 396.1 714.9 397.2 715.1 403.2 715.3 412.1 715.5 404.1 715.7 400.1 715.9 391.3 716.1 413.1 716.4 402.3 716.6 412.4 716.8 390.4 717.0 404.9 717.2 399.1 717.4 396.6 717.6 409.4 717.9 410.8 718.1 398.8 718.3 407.2 718.5 396.8 718.7 400.6 718.9 402.3 719.1 402.3 719.4 408.4 719.6 397.4 719.8 408.8 720.0 421.4 720.2 402.2 720.4 397.9 720.6 390.6 720.9 405.4 721.1 404.5 721.3 405.9 721.5 399.2 721.7 406.4 721.9 406.6 722.1 406.3 722.4 407.6" stroke="#0a8f0a" stroke-width="1.8"/>
<path d="M122.8 556.9 123.0 554.2 123.2 554.7 123.4 548.2 123.7 561.8 123.9 559.6 124.1 554.3 124.3 558.2 124.5 556.7 124.7 554.3 124.9 559.6 125.2 554.8 125.4 557.7 125.6 553.4 125.8 557.1 126.0 555.4 126.2 557.3 126.4 553.7 126.7 555.8 126.9 552.4 127.1 557.8 127.3 554.5 127.5 556.7 127.7 557.2 127.9 552.3 128.2 557.7 128.4 561.4 128.6 548.6 128.8 548.3 129.0 548.8 129.2 556.1 129.4 553.4 129.7 556.1 129.9 554.8 130.1 553.0 130.3 553.4 130.5 551.6 130.7 554.2 130.9 547.4 131.2 549.5 131.4 551.8 131.6 557.0 131.8 548.6 132.0 547.1 132.2 548.6 132.4 553.6 132.6 549.6 132.9 555.6 133.1 544.6 133.3 554.4 133.5 554.1 133.7 545.6 133.9 551.1 134.1 554.1 134.4 550.9 134.6 553.2 134.8 557.6 135.0 550.1 135.2 548.0 135.4 546.3 135.6 550.6 135.9 547.7 136.1 547.9 136.3 548.0 136.5 549.9 136.7 538.2 136.9 543.1 137.1 540.2 137.4 552.6 137.6 548.5 137.8 555.8 138.0 548.4 138.2 547.1 138.4 550.3 138.6 548.5 138.9 543.8 139.1 545.1 139.3 554.0 139.5 548.9 139.7 548.9 139.9 546.7 140.1 545.4 140.4 550.7 140.6 547.2 140.8 544.9 141.0 547.1 141.2 544.6 141.4 549.3 141.6 551.4 141.9 544.5 142.1 552.0 142.3 544.9 142.5 548.4 142.7 544.9 142.9 547.5 143.1 549.0 143.4 547.6 143.6 546.4 143.8 546.7 144.0 546.2 144.2 544.3 144.4 548.4 144.6 550.9 144.9 552.3 145.1 550.8 145.3 556.8 145.5 550.8 145.7 547.3 145.9 554.8 146.1 544.3 146.4 550.9 146.6 544.1 146.8 547.5 147.0 539.7 147.2 549.4 147.4 545.5 147.6 542.7 147.9 551.0 148.1 547.6 148.3 545.0 148.5 542.3 148.7 544.1 148.9 544.2 149.1 547.4 149.4 544.8 149.6 542.8 149.8 543.5 150.0 543.1 150.2 539.9 150.4 542.6 150.6 544.2 150.9 546.2 151.1 548.2 151.3 540.6 151.5 544.9 151.7 541.3 151.9 549.1 152.1 542.1 152.3 544.4 152.6 539.2 152.8 539.3 153.0 543.1 153.2 540.8 153.4 543.6 153.6 538.0 153.8 545.6 154.1 540.2 154.3 548.6 154.5 542.4 154.7 547.4 154.9 539.9 155.1 546.2 155.3 542.0 155.6 543.5 155.8 545.3 156.0 543.9 156.2 546.2 156.4 547.4 156.6 546.5 156.8 544.6 157.1 540.2 157.3 543.8 157.5 544.1 157.7 538.8 157.9 549.1 158.1 547.3 158.3 544.2 158.6 548.1 158.8 546.1 159.0 544.1 159.2 539.8 159.4 544.3 159.6 544.6 159.8 540.9 160.1 547.5 160.3 546.4 160.5 538.0 160.7 544.7 160.9 539.9 161.1 547.3 161.3 544.2 161.6 537.0 161.8 537.8 162.0 540.6 162.2 539.2 162.4 545.8 162.6 543.0 162.8 539.7 163.1 542.1 163.3 533.1 163.5 540.3 163.7 542.2 163.9 537.7 164.1 535.3 164.3 539.8 164.6 543.4 164.8 537.3 165.0 533.7 165.2 542.1 165.4 531.2 165.6 539.7 165.8 536.5 166.1 541.1 166.3 535.7 166.5 543.6 166.7 539.1 166.9 532.1 167.1 530.1 167.3 535.6 167.6 541.4 167.8 537.1 168.0 536.8 168.2 535.9 168.4 539.2 168.6 538.0 168.8 537.5 169.1 533.4 169.3 541.4 169.5 540.2 169.7 531.6 169.9 543.9 170.1 540.0 170.3 534.2 170.5 529.4 170.8 539.3 171.0 538.4 171.2 534.5 171.4 531.2 171.6 541.6 171.8 535.8 172.0 535.8 172.3 547.1 172.5 544.5 172.7 539.9 172.9 534.6 173.1 537.9 173.3 526.9 173.5 535.0 173.8 531.6 174.0 529.0 174.2 528.1 174.4 534.4 174.6 532.8 174.8 532.7 175.0 535.9 175.3 528.2 175.5 525.9 175.7 524.1 175.9 531.2 176.1 533.5 176.3 531.1 176.5 534.7 176.8 528.3 177.0 531.5 177.2 530.4 177.4 529.1 177.6 539.9 177.8 535.8 178.0 529.9 178.3 530.0 178.5 532.7 178.7 528.1 178.9 534.2 179.1 528.7 179.3 532.0 179.5 528.2 179.8 530.2 180.0 525.9 180.2 523.7 180.4 526.2 180.6 527.1 180.8 527.8 181.0 528.6 181.3 533.5 181.5 530.6 181.7 526.8 181.9 530.0 182.1 523.7 182.3 531.5 182.5 528.0 182.8 520.4 183.0 528.1 183.2 528.9 183.4 516.0 183.6 523.6 183.8 530.4 184.0 519.2 184.3 520.4 184.5 522.0 184.7 527.0 184.9 526.4 185.1 534.9 185.3 524.2 185.5 529.9 185.8 525.7 186.0 525.6 186.2 520.2 186.4 517.5 186.6 520.8 186.8 526.2 187.0 528.8 187.3 524.9 187.5 524.1 187.7 519.3 187.9 527.3 188.1 526.9 188.3 520.2 188.5 522.1 188.8 518.6 189.0 527.1 189.2 523.0 189.4 521.5 189.6 522.7 189.8 522.7 190.0 519.5 190.2 516.8 190.5 516.0 190.7 514.1 190.9 521.5 191.1 528.3 191.3 512.9 191.5 520.6 191.7 521.3 192.0 514.9 192.2 518.5 192.4 513.0 192.6 521.2 192.8 513.7 193.0 516.9 193.2 519.0 193.5 514.7 193.7 508.1 193.9 512.6 194.1 518.5 194.3 515.1 194.5 517.2 194.7 511.4 195.0 516.0 195.2 517.9 195.4 515.4 195.6 523.5 195.8 515.9 196.0 512.6 196.2 511.2 196.5 522.8 196.7 517.1 196.9 521.9 197.1 519.0 197.3 524.3 197.5 529.2 197.7 515.4 198.0 517.5 198.2 520.4 198.4 513.7 198.6 522.2 198.8 521.4 199.0 520.3 199.2 514.9 199.5 516.5 199.7 510.4 199.9 514.5 200.1 510.8 200.3 513.5 200.5 510.7 200.7 513.8 201.0 516.8 201.2 506.3 201.4 514.7 201.6 502.4 201.8 501.6 202.0 509.6 202.2 507.8 202.5 510.3 202.7 501.5 202.9 508.6 203.1 509.2 203.3 513.8 203.5 507.2 203.7 510.5 204.0 504.2 204.2 507.1 204.4 505.0 204.6 510.3 204.8 502.6 205.0 503.4 205.2 509.9 205.5 514.7 205.7 508.9 205.9 507.1 206.1 505.4 206.3 511.2 206.5 508.1 206.7 512.0 207.0 505.7 207.2 500.0 207.4 501.6 207.6 499.3 207.8 497.7 208.0 509.4 208.2 505.9 208.5 497.2 208.7 509.8 208.9 501.6 209.1 495.2 209.3 500.7 209.5 494.1 209.7 493.9 209.9 487.3 210.2 495.8 210.4 496.2 210.6 483.5 210.8 497.8 211.0 497.3 211.2 492.8 211.4 495.2 211.7 493.0 211.9 491.2 212.1 492.8 212.3 499.6 212.5 486.9 212.7 493.9 212.9 493.2 213.2 489.3 213.4 490.1 213.6 486.3 213.8 488.4 214.0 493.7 214.2 494.4 214.4 487.9 214.7 505.6 214.9 487.9 215.1 490.7 215.3 489.1 215.5 487.9 215.7 495.8 215.9 488.0 216.2 496.4 216.4 496.1 216.6 485.5 216.8 494.8 217.0 487.0 217.2 502.7 217.4 488.7 217.7 485.1 217.9 480.4 218.1 483.1 218.3 486.2 218.5 484.4 218.7 483.5 218.9 484.7 219.2 487.0 219.4 494.2 219.6 479.9 219.8 491.3 220.0 483.3 220.2 480.5 220.4 481.9 220.7 482.8 220.9 490.2 221.1 485.1 221.3 482.7 221.5 488.4 221.7 487.4 221.9 484.9 222.2 487.8 222.4 481.7 222.6 489.0 222.8 487.2 223.0 483.1 223.2 478.9 223.4 491.0 223.7 484.3 223.9 497.9 224.1 480.3 224.3 487.9 224.5 481.0 224.7 483.5 224.9 487.1 225.2 478.5 225.4 480.9 225.6 481.4 225.8 480.4 226.0 482.7 226.2 483.9 226.4 482.7 226.7 480.3 226.9 476.6 227.1 473.5 227.3 474.2 227.5 475.5 227.7 481.9 227.9 475.6 228.1 471.2 228.4 480.4 228.6 472.8 228.8 472.3 229.0 474.5 229.2 478.1 229.4 464.1 229.6 469.1 229.9 475.9 230.1 473.0 230.3 470.7 230.5 472.4 230.7 480.5 230.9 471.9 231.1 477.6 231.4 476.6 231.6 471.3 231.8 474.9 232.0 470.2 232.2 468.1 232.4 466.3 232.6 477.4 232.9 470.5 233.1 469.5 233.3 466.3 233.5 480.4 233.7 474.8 233.9 468.2 234.1 465.2 234.4 462.4 234.6 470.7 234.8 471.3 235.0 462.8 235.2 474.2 235.4 472.1 235.6 463.9 235.9 466.7 236.1 467.0 236.3 467.9 236.5 466.4 236.7 463.1 236.9 474.0 237.1 482.7 237.4 474.5 237.6 474.7 237.8 467.2 238.0 468.6 238.2 469.9 238.4 469.0 238.6 462.9 238.9 460.8 239.1 465.0 239.3 459.2 239.5 460.3 239.7 452.5 239.9 463.9 240.1 456.8 240.4 460.0 240.6 461.6 240.8 463.3 241.0 472.2 241.2 462.9 241.4 454.2 241.6 462.0 241.9 458.7 242.1 463.0 242.3 457.4 242.5 457.9 242.7 457.0 242.9 456.9 243.1 450.2 243.4 455.0 243.6 458.7 243.8 465.3 244.0 456.7 244.2 456.5 244.4 460.1 244.6 459.0 244.9 464.7 245.1 457.4 245.3 452.8 245.5 458.9 245.7 459.2 245.9 448.9 246.1 451.1 246.4 441.7 246.6 448.9 246.8 445.4 247.0 449.5 247.2 447.4 247.4 449.5 247.6 450.3 247.8 453.4 248.1 452.5 248.3 447.8 248.5 443.3 248.7 458.2 248.9 460.9 249.1 451.4 249.3 457.4 249.6 446.1 249.8 446.6 250.0 453.6 250.2 461.2 250.4 448.3 250.6 449.6 250.8 462.9 251.1 444.3 251.3 457.2 251.5 456.0 251.7 451.0 251.9 452.9 252.1 466.8 252.3 446.9 252.6 451.2 252.8 451.3 253.0 448.6 253.2 444.8 253.4 460.6 253.6 453.5 253.8 443.3 254.1 449.0 254.3 452.7 254.5 454.3 254.7 441.2 254.9 448.1 255.1 450.3 255.3 451.8 255.6 451.2 255.8 439.4 256.0 459.6 256.2 451.0 256.4 460.4 256.6 465.9 256.8 450.6 257.1 443.7 257.3 454.0 257.5 457.8 257.7 447.0 257.9 444.4 258.1 459.5 258.3 447.5 258.6 441.2 258.8 445.7 259.0 442.2 259.2 449.9 259.4 445.9 259.6 441.3 259.8 449.7 260.1 442.2 260.3 449.5 260.5 451.4 260.7 442.1 260.9 441.5 261.1 445.6 261.3 449.2 261.6 444.9 261.8 445.1 262.0 444.4 262.2 447.7 262.4 449.9 262.6 441.5 262.8 443.1 263.1 444.7 263.3 440.0 263.5 443.7 263.7 444.9 263.9 442.3 264.1 438.6 264.3 437.7 264.6 451.0 264.8 446.6 265.0 435.0 265.2 435.6 265.4 450.0 265.6 448.7 265.8 439.6 266.0 445.1 266.3 429.4 266.5 437.8 266.7 441.4 266.9 427.3 267.1 438.7 267.3 443.5 267.5 445.8 267.8 437.2 268.0 442.9 268.2 449.1 268.4 437.4 268.6 432.2 268.8 439.3 269.0 437.3 269.3 445.9 269.5 441.2 269.7 435.1 269.9 453.0 270.1 436.0 270.3 441.1 270.5 442.5 270.8 443.3 271.0 439.5 271.2 446.6 271.4 436.0 271.6 427.3 271.8 434.1 272.0 434.2 272.3 433.9 272.5 436.0 272.7 431.7 272.9 442.7 273.1 443.8 273.3 422.1 273.5 435.4 273.8 431.4 274.0 421.5 274.2 437.9 274.4 430.8 274.6 431.3 274.8 428.5 275.0 437.9 275.3 439.6 275.5 434.1 275.7 436.9 275.9 433.7 276.1 434.5 276.3 429.2 276.5 428.0 276.8 426.7 277.0 433.1 277.2 435.9 277.4 432.0 277.6 436.1 277.8 444.3 278.0 416.1 278.3 428.2 278.5 425.0 278.7 409.5 278.9 420.3 279.1 427.6 279.3 424.9 279.5 421.4 279.8 417.0 280.0 420.8 280.2 410.7 280.4 429.9 280.6 422.0 280.8 415.9 281.0 422.7 281.3 416.7 281.5 407.1 281.7 424.8 281.9 409.9 282.1 417.4 282.3 419.2 282.5 426.9 282.8 427.0 283.0 419.7 283.2 412.4 283.4 413.9 283.6 422.9 283.8 425.8 284.0 418.6 284.3 410.2 284.5 420.9 284.7 413.1 284.9 412.1 285.1 412.4 285.3 417.4 285.5 413.9 285.7 417.6 286.0 416.7 286.2 409.9 286.4 390.3 286.6 393.6 286.8 404.6 287.0 401.6 287.2 413.3 287.5 399.5 287.7 398.3 287.9 403.7 288.1 403.0 288.3 393.5 288.5 396.8 288.7 386.2 289.0 385.1 289.2 397.6 289.4 381.1 289.6 396.5 289.8 393.9 290.0 393.9 290.2 395.4 290.5 393.1 290.7 375.0 290.9 381.2 291.1 381.9 291.3 390.1 291.5 375.6 291.7 377.7 292.0 379.9 292.2 389.0 292.4 370.3 292.6 371.1 292.8 382.2 293.0 362.3 293.2 377.4 293.5 372.1 293.7 363.4 293.9 368.7 294.1 362.8 294.3 373.7 294.5 370.3 294.7 376.1 295.0 363.6 295.2 364.5 295.4 358.9 295.6 357.9 295.8 363.0 296.0 341.5 296.2 356.2 296.5 345.6 296.7 336.7 296.9 345.2 297.1 345.7 297.3 338.1 297.5 331.5 297.7 333.3 298.0 329.8 298.2 325.1 298.4 327.0 298.6 330.2 298.8 321.2 299.0 317.5 299.2 307.0 299.5 312.4 299.7 297.1 299.9 314.2 300.1 301.5 300.3 315.7 300.5 326.4 300.7 298.8 301.0 309.5 301.2 299.5 301.4 292.1 301.6 287.2 301.8 304.5 302.0 298.2 302.2 289.4 302.5 274.9 302.7 276.1 302.9 279.3 303.1 289.4 303.3 281.1 303.5 280.5 303.7 284.5 303.9 273.6 304.2 273.7 304.4 273.3 304.6 260.9 304.8 277.1 305.0 276.3 305.2 280.9 305.4 260.4 305.7 268.7 305.9 281.1 306.1 276.1 306.3 285.7 306.5 271.1 306.7 281.8 306.9 276.4 307.2 284.8 307.4 282.2 307.6 291.3 307.8 296.7 308.0 295.6 308.2 276.2 308.4 302.5 308.7 300.3 308.9 290.1 309.1 294.7 309.3 302.0 309.5 308.6 309.7 292.0 309.9 296.8 310.2 313.3 310.4 314.1 310.6 333.1 310.8 308.4 311.0 337.0 311.2 332.9 311.4 324.8 311.7 336.0 311.9 325.6 312.1 333.2 312.3 321.4 312.5 330.9 312.7 323.9 312.9 321.1 313.2 332.1 313.4 330.6 313.6 340.5 313.8 347.1 314.0 338.0 314.2 339.7 314.4 340.9 314.7 328.9 314.9 345.4 315.1 344.5 315.3 340.5 315.5 339.4 315.7 335.0 315.9 349.4 316.2 351.6 316.4 358.7 316.6 357.1 316.8 358.9 317.0 352.0 317.2 357.2 317.4 346.8 317.7 352.6 317.9 356.6 318.1 369.7 318.3 353.9 318.5 341.1 318.7 360.3 318.9 346.6 319.2 351.5 319.4 348.9 319.6 343.6 319.8 358.1 320.0 353.4 320.2 345.6 320.4 349.0 320.7 344.6 320.9 352.4 321.1 345.1 321.3 317.5 321.5 337.9 321.7 337.3 321.9 340.6 322.2 331.0 322.4 334.4 322.6 335.0 322.8 346.2 323.0 350.7 323.2 307.4 323.4 322.3 323.6 321.4 323.9 326.2 324.1 333.5 324.3 326.2 324.5 302.2 324.7 318.7 324.9 315.8 325.1 317.9 325.4 322.8 325.6 302.8 325.8 316.5 326.0 295.2 326.2 303.9 326.4 304.4 326.6 315.2 326.9 291.5 327.1 282.8 327.3 297.8 327.5 284.1 327.7 298.4 327.9 279.6 328.1 274.9 328.4 287.6 328.6 277.1 328.8 280.2 329.0 261.6 329.2 281.0 329.4 262.8 329.6 269.9 329.9 256.1 330.1 250.4 330.3 258.3 330.5 258.8 330.7 265.2 330.9 254.4 331.1 254.0 331.4 253.1 331.6 268.8 331.8 239.2 332.0 251.3 332.2 239.6 332.4 223.6 332.6 231.1 332.9 242.6 333.1 224.2 333.3 222.7 333.5 228.0 333.7 219.1 333.9 231.3 334.1 231.7 334.4 219.6 334.6 227.5 334.8 216.4 335.0 218.3 335.2 215.8 335.4 226.6 335.6 212.5 335.9 204.8 336.1 202.9 336.3 217.5 336.5 188.5 336.7 199.9 336.9 198.8 337.1 182.7 337.4 196.4 337.6 204.5 337.8 198.1 338.0 187.8 338.2 198.1 338.4 195.0 338.6 205.4 338.9 187.2 339.1 190.9 339.3 194.1 339.5 191.9 339.7 194.8 339.9 193.1 340.1 190.4 340.4 185.9 340.6 193.8 340.8 189.1 341.0 192.1 341.2 196.3 341.4 204.1 341.6 207.1 341.8 194.2 342.1 206.3 342.3 210.2 342.5 202.3 342.7 191.4 342.9 188.7 343.1 210.6 343.3 210.0 343.6 206.9 343.8 197.5 344.0 215.5 344.2 213.2 344.4 204.1 344.6 202.0 344.8 188.8 345.1 206.5 345.3 188.5 345.5 204.0 345.7 201.8 345.9 196.4 346.1 206.9 346.3 189.2 346.6 193.5 346.8 191.6 347.0 186.7 347.2 178.2 347.4 187.1 347.6 177.8 347.8 170.6 348.1 169.4 348.3 167.8 348.5 180.8 348.7 164.8 348.9 160.9 349.1 153.5 349.3 150.1 349.6 142.2 349.8 156.2 350.0 154.7 350.2 145.7 350.4 143.0 350.6 148.9 350.8 146.0 351.1 138.7 351.3 150.1 351.5 149.3 351.7 145.2 351.9 151.9 352.1 141.4 352.3 152.7 352.6 137.6 352.8 147.5 353.0 148.6 353.2 141.0 353.4 144.6 353.6 132.8 353.8 131.4 354.1 140.0 354.3 137.4 354.5 178.9 354.7 144.4 354.9 151.3 355.1 148.8 355.3 149.0 355.6 150.1 355.8 147.9 356.0 150.1 356.2 167.9 356.4 144.2 356.6 157.1 356.8 168.1 357.1 164.3 357.3 172.6 357.5 167.2 357.7 156.5 357.9 164.5 358.1 161.6 358.3 181.7 358.6 185.1 358.8 174.3 359.0 186.5 359.2 181.1 359.4 177.0 359.6 186.5 359.8 180.9 360.1 189.7 360.3 197.5 360.5 201.8 360.7 215.1 360.9 185.7 361.1 214.6 361.3 217.7 361.5 224.2 361.8 201.5 362.0 219.3 362.2 234.6 362.4 223.9 362.6 233.6 362.8 241.5 363.0 222.8 363.3 235.6 363.5 241.8 363.7 240.4 363.9 231.4 364.1 245.4 364.3 238.6 364.5 248.8 364.8 247.2 365.0 242.3 365.2 247.3 365.4 240.4 365.6 241.3 365.8 234.4 366.0 244.9 366.3 265.9 366.5 250.9 366.7 259.6 366.9 248.9 367.1 250.8 367.3 263.3 367.5 248.5 367.8 276.3 368.0 262.3 368.2 280.8 368.4 274.8 368.6 264.5 368.8 272.7 369.0 270.3 369.3 272.2 369.5 275.0 369.7 266.7 369.9 265.5 370.1 267.9 370.3 260.8 370.5 268.4 370.8 272.6 371.0 272.8 371.2 272.8 371.4 268.7 371.6 278.3 371.8 258.2 372.0 270.5 372.3 270.5 372.5 280.9 372.7 279.2 372.9 281.8 373.1 277.1 373.3 282.9 373.5 269.2 373.8 276.9 374.0 262.3 374.2 299.0 374.4 290.0 374.6 272.5 374.8 270.3 375.0 261.3 375.3 266.3 375.5 276.5 375.7 274.6 375.9 266.6 376.1 271.9 376.3 272.7 376.5 278.7 376.8 280.5 377.0 274.1 377.2 274.8 377.4 277.6 377.6 260.1 377.8 278.2 378.0 275.7 378.3 282.8 378.5 264.3 378.7 282.6 378.9 270.3 379.1 279.0 379.3 286.3 379.5 267.3 379.8 268.9 380.0 284.2 380.2 268.5 380.4 270.4 380.6 281.8 380.8 275.8 381.0 282.7 381.2 279.6 381.5 277.8 381.7 285.1 381.9 294.4 382.1 277.2 382.3 288.8 382.5 287.9 382.7 278.8 383.0 280.1 383.2 268.7 383.4 271.5 383.6 278.1 383.8 276.6 384.0 285.0 384.2 266.5 384.5 274.3 384.7 270.8 384.9 274.8 385.1 282.9 385.3 266.4 385.5 281.6 385.7 272.9 386.0 275.6 386.2 285.1 386.4 276.2 386.6 283.5 386.8 279.3 387.0 277.7 387.2 276.6 387.5 267.5 387.7 274.7 387.9 280.9 388.1 279.1 388.3 267.0 388.5 283.7 388.7 282.4 389.0 269.5 389.2 271.2 389.4 282.0 389.6 263.3 389.8 269.2 390.0 274.5 390.2 274.8 390.5 275.7 390.7 260.2 390.9 276.3 391.1 269.6 391.3 288.9 391.5 264.8 391.7 272.3 392.0 276.2 392.2 270.2 392.4 282.6 392.6 274.3 392.8 278.7 393.0 254.0 393.2 282.4 393.5 283.5 393.7 270.6 393.9 285.0 394.1 276.9 394.3 282.6 394.5 290.5 394.7 277.7 395.0 269.2 395.2 276.6 395.4 266.7 395.6 270.5 395.8 272.6 396.0 274.1 396.2 286.5 396.5 284.5 396.7 272.1 396.9 286.5 397.1 266.8 397.3 273.4 397.5 277.2 397.7 287.2 398.0 284.9 398.2 282.4 398.4 290.2 398.6 288.3 398.8 293.2 399.0 278.6 399.2 273.2 399.4 282.2 399.7 291.5 399.9 287.6 400.1 292.8 400.3 293.8 400.5 294.6 400.7 296.2 400.9 287.6 401.2 301.9 401.4 289.5 401.6 296.7 401.8 287.1 402.0 299.9 402.2 284.2 402.4 306.1 402.7 286.8 402.9 297.7 403.1 295.8 403.3 290.1 403.5 308.6 403.7 291.6 403.9 309.1 404.2 290.9 404.4 293.7 404.6 284.5 404.8 301.5 405.0 302.7 405.2 297.2 405.4 294.8 405.7 290.9 405.9 315.8 406.1 303.6 406.3 286.1 406.5 298.3 406.7 281.2 406.9 311.3 407.2 313.1 407.4 309.4 407.6 298.9 407.8 296.7 408.0 291.3 408.2 305.8 408.4 297.7 408.7 301.6 408.9 299.8 409.1 302.1 409.3 311.2 409.5 315.8 409.7 305.9 409.9 304.7 410.2 296.6 410.4 295.8 410.6 298.1 410.8 312.8 411.0 308.8 411.2 314.3 411.4 308.7 411.7 301.1 411.9 293.3 412.1 299.2 412.3 290.0 412.5 315.0 412.7 303.9 412.9 298.0 413.2 314.5 413.4 296.0 413.6 301.6 413.8 295.6 414.0 299.8 414.2 294.8 414.4 299.9 414.7 306.0 414.9 285.9 415.1 279.1 415.3 305.3 415.5 297.4 415.7 302.7 415.9 293.9 416.2 307.1 416.4 307.0 416.6 285.1 416.8 298.7 417.0 288.3 417.2 281.6 417.4 290.4 417.7 294.9 417.9 279.6 418.1 280.4 418.3 298.7 418.5 289.5 418.7 290.4 418.9 278.3 419.1 280.0 419.4 284.4 419.6 285.0 419.8 283.6 420.0 293.8 420.2 283.1 420.4 269.3 420.6 274.8 420.9 278.5 421.1 288.1 421.3 273.1 421.5 273.1 421.7 275.6 421.9 268.6 422.1 266.1 422.4 269.4 422.6 276.8 422.8 273.5 423.0 243.8 423.2 270.7 423.4 257.3 423.6 272.9 423.9 269.9 424.1 265.9 424.3 249.9 424.5 275.9 424.7 237.7 424.9 251.1 425.1 248.9 425.4 257.9 425.6 240.2 425.8 250.5 426.0 245.9 426.2 247.2 426.4 248.5 426.6 249.3 426.9 238.8 427.1 220.1 427.3 214.3 427.5 231.7 427.7 223.0 427.9 207.9 428.1 220.0 428.4 227.5 428.6 212.0 428.8 203.7 429.0 225.8 429.2 211.9 429.4 208.2 429.6 212.3 429.9 187.3 430.1 200.0 430.3 197.4 430.5 214.1 430.7 191.7 430.9 188.5 431.1 180.4 431.4 181.9 431.6 192.5 431.8 185.7 432.0 179.4 432.2 193.7 432.4 180.1 432.6 178.6 432.9 182.0 433.1 173.2 433.3 161.3 433.5 151.7 433.7 164.3 433.9 153.8 434.1 166.8 434.4 149.6 434.6 137.6 434.8 152.5 435.0 158.8 435.2 148.0 435.4 150.6 435.6 148.8 435.9 157.3 436.1 144.4 436.3 139.4 436.5 132.6 436.7 123.1 436.9 143.9 437.1 139.8 437.3 122.5 437.6 132.8 437.8 130.3 438.0 124.8 438.2 123.4 438.4 131.5 438.6 115.9 438.8 120.3 439.1 121.0 439.3 122.0 439.5 122.4 439.7 126.7 439.9 127.4 440.1 118.4 440.3 127.8 440.6 122.7 440.8 138.9 441.0 118.2 441.2 127.3 441.4 132.9 441.6 125.5 441.8 125.4 442.1 123.0 442.3 128.8 442.5 118.7 442.7 127.7 442.9 125.8 443.1 114.5 443.3 127.6 443.6 124.8 443.8 130.5 444.0 135.3 444.2 138.7 444.4 120.5 444.6 131.5 444.8 110.6 445.1 124.0 445.3 143.8 445.5 132.7 445.7 144.5 445.9 135.8 446.1 138.1 446.3 131.0 446.6 149.6 446.8 145.1 447.0 151.4 447.2 150.3 447.4 152.0 447.6 151.0 447.8 167.4 448.1 154.1 448.3 149.9 448.5 141.6 448.7 165.0 448.9 176.2 449.1 171.8 449.3 182.5 449.6 169.4 449.8 160.0 450.0 162.3 450.2 176.4 450.4 173.5 450.6 173.8 450.8 181.9 451.1 172.7 451.3 183.0 451.5 179.1 451.7 183.6 451.9 193.0 452.1 191.7 452.3 197.4 452.6 208.0 452.8 184.1 453.0 209.2 453.2 184.4 453.4 204.3 453.6 203.6 453.8 183.0 454.1 209.0 454.3 210.1 454.5 203.4 454.7 207.9 454.9 209.2 455.1 212.5 455.3 217.3 455.6 207.9 455.8 211.2 456.0 215.5 456.2 221.7 456.4 224.6 456.6 206.3 456.8 204.3 457.0 218.0 457.3 219.6 457.5 213.6 457.7 224.6 457.9 223.0 458.1 225.0 458.3 234.8 458.5 217.5 458.8 225.6 459.0 240.4 459.2 233.3 459.4 219.6 459.6 230.5 459.8 237.8 460.0 244.9 460.3 237.0 460.5 240.4 460.7 224.6 460.9 230.3 461.1 242.4 461.3 228.3 461.5 237.6 461.8 225.6 462.0 251.0 462.2 239.6 462.4 247.1 462.6 231.7 462.8 234.4 463.0 260.0 463.3 244.5 463.5 243.9 463.7 253.5 463.9 252.7 464.1 235.6 464.3 244.6 464.5 255.1 464.8 253.8 465.0 271.3 465.2 252.3 465.4 253.9 465.6 259.0 465.8 253.2 466.0 253.1 466.3 257.3 466.5 262.4 466.7 259.4 466.9 258.2 467.1 260.1 467.3 262.6 467.5 266.9 467.8 268.6 468.0 259.1 468.2 276.2 468.4 259.6 468.6 277.1 468.8 268.0 469.0 280.9 469.3 285.3 469.5 265.5 469.7 285.2 469.9 283.8 470.1 278.8 470.3 288.0 470.5 282.3 470.8 288.7 471.0 282.5 471.2 297.4 471.4 297.4 471.6 299.4 471.8 290.3 472.0 309.1 472.3 310.6 472.5 297.0 472.7 295.7 472.9 296.4 473.1 305.3 473.3 308.5 473.5 297.0 473.8 289.1 474.0 308.7 474.2 299.5 474.4 310.5 474.6 312.3 474.8 302.4 475.0 310.7 475.2 306.7 475.5 312.7 475.7 319.6 475.9 311.6 476.1 306.1 476.3 320.2 476.5 317.3 476.7 310.6 477.0 298.9 477.2 307.3 477.4 314.4 477.6 318.2 477.8 309.6 478.0 318.4 478.2 311.2 478.5 310.5 478.7 317.0 478.9 313.2 479.1 315.4 479.3 321.6 479.5 322.8 479.7 310.0 480.0 311.9 480.2 304.2 480.4 305.8 480.6 316.4 480.8 310.1 481.0 300.6 481.2 317.4 481.5 307.1 481.7 309.0 481.9 314.6 482.1 314.4 482.3 313.7 482.5 298.0 482.7 315.4 483.0 306.9 483.2 300.9 483.4 296.0 483.6 322.1 483.8 311.5 484.0 314.4 484.2 317.7 484.5 313.8 484.7 303.8 484.9 319.1 485.1 321.3 485.3 318.6 485.5 325.8 485.7 329.7 486.0 309.1 486.2 312.8 486.4 324.1 486.6 317.8 486.8 318.5 487.0 322.4 487.2 321.9 487.5 312.3 487.7 315.3 487.9 309.4 488.1 299.7 488.3 306.0 488.5 300.2 488.7 310.8 489.0 311.0 489.2 322.2 489.4 327.4 489.6 316.5 489.8 309.9 490.0 309.9 490.2 309.2 490.5 314.1 490.7 313.8 490.9 317.9 491.1 315.6 491.3 325.8 491.5 312.7 491.7 301.1 492.0 314.3 492.2 307.0 492.4 313.7 492.6 319.1 492.8 305.4 493.0 308.8 493.2 314.2 493.5 304.0 493.7 313.1 493.9 314.4 494.1 315.7 494.3 319.3 494.5 315.8 494.7 313.4 494.9 302.3 495.2 293.5 495.4 301.9 495.6 322.6 495.8 312.3 496.0 295.2 496.2 309.0 496.4 315.2 496.7 299.6 496.9 315.9 497.1 303.1 497.3 318.0 497.5 312.3 497.7 335.3 497.9 304.1 498.2 316.3 498.4 305.9 498.6 322.6 498.8 314.9 499.0 321.5 499.2 316.4 499.4 309.3 499.7 314.5 499.9 309.5 500.1 311.1 500.3 320.1 500.5 325.6 500.7 325.8 500.9 323.7 501.2 315.8 501.4 323.5 501.6 313.0 501.8 319.6 502.0 324.9 502.2 319.7 502.4 319.1 502.7 319.2 502.9 327.6 503.1 321.1 503.3 313.7 503.5 330.2 503.7 315.4 503.9 334.5 504.2 325.1 504.4 313.7 504.6 327.3 504.8 330.8 505.0 328.2 505.2 324.0 505.4 329.0 505.7 329.7 505.9 335.4 506.1 330.1 506.3 342.8 506.5 324.1 506.7 337.5 506.9 326.9 507.2 314.9 507.4 320.7 507.6 316.7 507.8 318.6 508.0 341.4 508.2 328.2 508.4 338.7 508.7 328.6 508.9 335.3 509.1 327.8 509.3 341.2 509.5 334.2 509.7 334.4 509.9 338.6 510.2 356.9 510.4 343.7 510.6 345.6 510.8 332.0 511.0 337.7 511.2 344.3 511.4 329.5 511.7 350.9 511.9 344.3 512.1 341.6 512.3 342.2 512.5 342.1 512.7 339.7 512.9 354.6 513.1 350.1 513.4 354.1 513.6 343.8 513.8 345.3 514.0 356.7 514.2 340.4 514.4 345.0 514.6 354.6 514.9 357.0 515.1 340.8 515.3 348.7 515.5 349.3 515.7 350.7 515.9 345.1 516.1 355.4 516.4 348.6 516.6 350.6 516.8 337.6 517.0 352.2 517.2 338.9 517.4 357.4 517.6 355.7 517.9 349.2 518.1 354.5 518.3 353.5 518.5 352.8 518.7 356.2 518.9 349.3 519.1 350.9 519.4 348.5 519.6 364.3 519.8 355.2 520.0 353.9 520.2 358.7 520.4 349.6 520.6 348.3 520.9 357.8 521.1 360.2 521.3 357.6 521.5 343.5 521.7 353.1 521.9 352.8 522.1 357.9 522.4 347.9 522.6 346.7 522.8 352.9 523.0 346.3 523.2 347.0 523.4 353.3 523.6 360.8 523.9 355.8 524.1 363.1 524.3 348.8 524.5 361.7 524.7 357.8 524.9 352.6 525.1 355.1 525.4 352.9 525.6 355.6 525.8 350.8 526.0 363.5 526.2 353.6 526.4 344.2 526.6 351.5 526.9 354.0 527.1 349.2 527.3 356.6 527.5 344.2 527.7 344.8 527.9 361.9 528.1 350.4 528.4 353.9 528.6 353.3 528.8 353.1 529.0 348.4 529.2 347.9 529.4 357.9 529.6 347.8 529.9 350.2 530.1 356.6 530.3 366.9 530.5 344.9 530.7 358.0 530.9 361.8 531.1 355.4 531.4 342.6 531.6 357.2 531.8 364.9 532.0 340.3 532.2 331.4 532.4 348.7 532.6 351.1 532.8 355.6 533.1 354.3 533.3 348.4 533.5 351.4 533.7 355.4 533.9 347.3 534.1 345.8 534.3 345.9 534.6 352.0 534.8 350.0 535.0 342.7 535.2 352.4 535.4 340.4 535.6 344.6 535.8 346.6 536.1 332.5 536.3 342.1 536.5 350.4 536.7 358.6 536.9 333.4 537.1 341.2 537.3 339.0 537.6 343.9 537.8 345.6 538.0 333.1 538.2 346.7 538.4 345.2 538.6 345.5 538.8 342.0 539.1 344.5 539.3 332.9 539.5 348.2 539.7 349.8 539.9 345.1 540.1 336.8 540.3 353.6 540.6 351.7 540.8 329.2 541.0 344.6 541.2 341.8 541.4 321.6 541.6 343.1 541.8 342.1 542.1 346.1 542.3 339.6 542.5 333.6 542.7 334.1 542.9 340.0 543.1 341.8 543.3 329.7 543.6 331.7 543.8 338.8 544.0 319.2 544.2 338.1 544.4 333.5 544.6 320.7 544.8 341.9 545.1 329.2 545.3 340.8 545.5 346.6 545.7 326.0 545.9 325.4 546.1 332.8 546.3 321.6 546.6 340.4 546.8 336.2 547.0 341.5 547.2 322.1 547.4 336.0 547.6 336.5 547.8 319.5 548.1 341.5 548.3 320.2 548.5 331.1 548.7 321.9 548.9 340.7 549.1 342.8 549.3 331.8 549.6 331.4 549.8 342.1 550.0 328.4 550.2 331.2 550.4 336.7 550.6 335.1 550.8 341.8 551.1 338.0 551.3 354.3 551.5 329.9 551.7 339.1 551.9 325.5 552.1 336.0 552.3 341.6 552.5 343.7 552.8 318.8 553.0 325.5 553.2 329.9 553.4 316.1 553.6 326.5 553.8 325.3 554.0 318.8 554.3 324.9 554.5 315.9 554.7 325.0 554.9 331.6 555.1 325.0 555.3 342.9 555.5 312.4 555.8 319.1 556.0 327.1 556.2 314.0 556.4 324.7 556.6 329.0 556.8 326.7 557.0 324.6 557.3 332.4 557.5 328.6 557.7 331.4 557.9 329.5 558.1 321.9 558.3 320.1 558.5 325.4 558.8 328.6 559.0 324.7 559.2 332.7 559.4 327.3 559.6 332.9 559.8 326.6 560.0 329.8 560.3 330.9 560.5 326.7 560.7 317.9 560.9 319.9 561.1 343.1 561.3 297.6 561.5 329.3 561.8 320.6 562.0 318.5 562.2 315.9 562.4 314.2 562.6 334.5 562.8 315.8 563.0 317.7 563.3 326.3 563.5 324.5 563.7 320.5 563.9 320.2 564.1 313.2 564.3 330.4 564.5 316.0 564.8 305.1 565.0 330.3 565.2 328.2 565.4 327.3 565.6 320.8 565.8 331.8 566.0 315.6 566.3 308.6 566.5 324.1 566.7 327.6 566.9 325.2 567.1 334.8 567.3 324.8 567.5 317.4 567.8 317.1 568.0 323.8 568.2 318.5 568.4 316.6 568.6 306.6 568.8 315.3 569.0 306.1 569.3 315.8 569.5 316.1 569.7 320.3 569.9 327.0 570.1 312.6 570.3 325.7 570.5 307.5 570.7 315.8 571.0 320.9 571.2 327.7 571.4 305.6 571.6 313.2 571.8 315.8 572.0 316.2 572.2 307.8 572.5 303.9 572.7 307.4 572.9 316.5 573.1 308.3 573.3 331.3 573.5 328.6 573.7 306.8 574.0 316.0 574.2 327.5 574.4 329.5 574.6 327.8 574.8 310.3 575.0 316.9 575.2 329.2 575.5 320.5 575.7 316.7 575.9 323.8 576.1 327.0 576.3 320.4 576.5 322.0 576.7 327.3 577.0 315.4 577.2 311.6 577.4 323.0 577.6 308.3 577.8 321.1 578.0 312.4 578.2 324.2 578.5 308.6 578.7 310.0 578.9 320.7 579.1 315.2 579.3 312.8 579.5 317.2 579.7 313.2 580.0 311.5 580.2 327.5 580.4 323.8 580.6 328.6 580.8 311.7 581.0 308.9 581.2 312.8 581.5 329.7 581.7 331.1 581.9 313.0 582.1 334.7 582.3 323.8 582.5 319.3 582.7 327.9 583.0 331.1 583.2 327.4 583.4 326.9 583.6 323.1 583.8 318.8 584.0 327.0 584.2 317.7 584.5 333.5 584.7 323.0 584.9 339.6 585.1 319.9 585.3 342.8 585.5 326.2 585.7 327.0 586.0 335.4 586.2 338.3 586.4 330.5 586.6 330.0 586.8 347.6 587.0 338.8 587.2 325.6 587.5 334.2 587.7 348.8 587.9 339.7 588.1 343.6 588.3 353.3 588.5 332.6 588.7 338.7 589.0 329.7 589.2 334.5 589.4 338.2 589.6 324.0 589.8 334.7 590.0 334.6 590.2 342.1 590.4 329.4 590.7 323.6 590.9 336.4 591.1 325.1 591.3 333.1 591.5 335.5 591.7 325.8 591.9 329.7 592.2 324.3 592.4 310.6 592.6 321.2 592.8 316.6 593.0 331.6 593.2 324.2 593.4 331.8 593.7 332.4 593.9 340.1 594.1 330.3 594.3 329.3 594.5 335.2 594.7 341.7 594.9 330.6 595.2 333.7 595.4 327.0 595.6 323.7 595.8 316.8 596.0 326.5 596.2 324.2 596.4 323.7 596.7 339.3 596.9 323.3 597.1 326.9 597.3 321.0 597.5 332.1 597.7 321.0 597.9 336.3 598.2 320.8 598.4 322.0 598.6 331.7 598.8 321.7 599.0 331.1 599.2 325.0 599.4 321.2 599.7 322.3 599.9 329.8 600.1 341.4 600.3 324.5 600.5 332.3 600.7 324.1 600.9 331.8 601.2 320.4 601.4 324.9 601.6 332.5 601.8 327.0 602.0 329.7 602.2 339.0 602.4 345.7 602.7 326.8 602.9 323.1 603.1 316.4 603.3 340.2 603.5 331.9 603.7 330.8 603.9 337.1 604.2 337.8 604.4 337.6 604.6 322.8 604.8 322.7 605.0 316.2 605.2 321.7 605.4 324.2 605.7 332.4 605.9 328.5 606.1 322.1 606.3 332.6 606.5 317.7 606.7 319.8 606.9 317.8 607.2 317.6 607.4 323.9 607.6 321.4 607.8 321.1 608.0 337.5 608.2 318.1 608.4 320.8 608.6 327.0 608.9 332.0 609.1 331.4 609.3 327.2 609.5 325.0 609.7 325.1 609.9 332.3 610.1 318.9 610.4 307.0 610.6 325.4 610.8 316.0 611.0 323.3 611.2 332.5 611.4 323.1 611.6 333.8 611.9 308.1 612.1 322.6 612.3 323.2 612.5 325.7 612.7 314.9 612.9 320.2 613.1 321.4 613.4 322.0 613.6 312.7 613.8 311.8 614.0 328.6 614.2 326.2 614.4 322.8 614.6 326.3 614.9 329.2 615.1 314.0 615.3 325.4 615.5 335.1 615.7 333.0 615.9 329.4 616.1 331.4 616.4 315.7 616.6 321.7 616.8 332.4 617.0 334.9 617.2 326.5 617.4 320.5 617.6 323.6 617.9 330.8 618.1 341.0 618.3 333.2 618.5 324.3 618.7 331.1 618.9 329.8 619.1 343.5 619.4 328.4 619.6 325.3 619.8 323.8 620.0 315.9 620.2 317.1 620.4 322.2 620.6 319.3 620.9 324.6 621.1 322.6 621.3 325.9 621.5 332.3 621.7 322.8 621.9 317.2 622.1 307.0 622.4 323.2 622.6 325.0 622.8 314.8 623.0 317.0 623.2 314.9 623.4 326.6 623.6 323.2 623.9 329.1 624.1 311.7 624.3 340.8 624.5 316.2 624.7 317.7 624.9 328.4 625.1 320.6 625.4 336.4 625.6 319.4 625.8 317.9 626.0 330.6 626.2 333.6 626.4 320.1 626.6 323.5 626.9 324.5 627.1 327.7 627.3 341.0 627.5 336.6 627.7 336.1 627.9 337.0 628.1 328.6 628.3 335.4 628.6 328.8 628.8 327.1 629.0 344.1 629.2 320.8 629.4 334.8 629.6 331.6 629.8 323.2 630.1 331.7 630.3 342.3 630.5 340.7 630.7 330.6 630.9 342.6 631.1 341.0 631.3 343.7 631.6 325.8 631.8 335.9 632.0 334.3 632.2 343.9 632.4 333.7 632.6 336.8 632.8 341.7 633.1 332.6 633.3 334.4 633.5 341.1 633.7 333.0 633.9 323.8 634.1 342.4 634.3 338.4 634.6 346.5 634.8 345.6 635.0 340.9 635.2 339.5 635.4 339.9 635.6 343.0 635.8 338.0 636.1 344.2 636.3 353.1 636.5 338.3 636.7 339.7 636.9 339.5 637.1 348.2 637.3 349.0 637.6 353.9 637.8 348.4 638.0 343.2 638.2 345.7 638.4 334.2 638.6 346.4 638.8 343.3 639.1 353.9 639.3 350.8 639.5 334.5 639.7 337.2 639.9 345.6 640.1 324.6 640.3 332.5 640.6 342.6 640.8 344.8 641.0 341.9 641.2 348.4 641.4 337.5 641.6 342.9 641.8 340.5 642.1 334.3 642.3 338.7 642.5 339.5 642.7 344.5 642.9 324.9 643.1 344.8 643.3 341.4 643.6 340.8 643.8 346.4 644.0 343.3 644.2 353.9 644.4 357.8 644.6 356.1 644.8 357.4 645.1 354.2 645.3 352.1 645.5 344.6 645.7 350.8 645.9 362.0 646.1 358.3 646.3 350.7 646.5 356.6 646.8 363.4 647.0 355.4 647.2 368.0 647.4 341.1 647.6 361.5 647.8 359.5 648.0 354.8 648.3 356.7 648.5 359.9 648.7 340.1 648.9 357.5 649.1 360.7 649.3 355.4 649.5 361.0 649.8 344.0 650.0 351.5 650.2 352.8 650.4 348.7 650.6 358.6 650.8 353.5 651.0 346.9 651.3 355.6 651.5 357.2 651.7 347.9 651.9 352.9 652.1 349.5 652.3 350.8 652.5 340.8 652.8 360.0 653.0 353.8 653.2 348.4 653.4 352.7 653.6 351.9 653.8 349.3 654.0 347.1 654.3 351.7 654.5 347.9 654.7 348.1 654.9 344.3 655.1 349.4 655.3 358.9 655.5 355.4 655.8 354.3 656.0 353.1 656.2 351.4 656.4 344.0 656.6 362.5 656.8 349.8 657.0 345.6 657.3 375.6 657.5 355.3 657.7 349.5 657.9 343.5 658.1 343.7 658.3 363.9 658.5 352.2 658.8 348.3 659.0 366.2 659.2 348.4 659.4 344.7 659.6 353.3 659.8 353.5 660.0 361.6 660.3 340.9 660.5 353.6 660.7 338.6 660.9 355.5 661.1 347.9 661.3 348.9 661.5 347.0 661.8 357.6 662.0 364.3 662.2 353.4 662.4 352.1 662.6 350.8 662.8 359.2 663.0 351.1 663.3 382.1 663.5 355.5 663.7 368.6 663.9 358.5 664.1 349.1 664.3 349.6 664.5 356.8 664.8 353.9 665.0 358.0 665.2 351.9 665.4 376.2 665.6 374.9 665.8 348.6 666.0 364.8 666.2 369.8 666.5 358.3 666.7 357.4 666.9 367.8 667.1 364.2 667.3 353.5 667.5 370.5 667.7 358.5 668.0 373.7 668.2 355.3 668.4 347.9 668.6 365.2 668.8 373.7 669.0 368.7 669.2 366.7 669.5 358.8 669.7 372.0 669.9 355.2 670.1 371.1 670.3 357.2 670.5 359.9 670.7 353.9 671.0 355.9 671.2 371.8 671.4 352.9 671.6 363.9 671.8 357.3 672.0 369.2 672.2 352.4 672.5 361.0 672.7 367.5 672.9 375.5 673.1 351.1 673.3 353.5 673.5 360.8 673.7 371.1 674.0 355.7 674.2 369.2 674.4 373.6 674.6 356.7 674.8 353.4 675.0 365.0 675.2 369.1 675.5 360.4 675.7 347.8 675.9 358.3 676.1 369.1 676.3 368.0 676.5 363.3 676.7 372.8 677.0 352.8 677.2 351.8 677.4 376.7 677.6 365.1 677.8 360.2 678.0 359.3 678.2 346.0 678.5 369.6 678.7 349.9 678.9 350.9 679.1 364.9 679.3 374.0 679.5 361.7 679.7 368.5 680.0 362.2 680.2 369.5 680.4 354.5 680.6 381.1 680.8 361.4 681.0 371.0 681.2 352.5 681.5 377.3 681.7 366.9 681.9 376.6 682.1 357.1 682.3 369.5 682.5 360.2 682.7 360.9 683.0 372.9 683.2 358.0 683.4 368.8 683.6 376.9 683.8 373.3 684.0 369.8 684.2 364.8 684.4 355.2 684.7 376.5 684.9 356.9 685.1 369.6 685.3 360.5 685.5 363.7 685.7 364.9 685.9 368.3 686.2 361.2 686.4 364.0 686.6 357.9 686.8 363.7 687.0 362.7 687.2 364.1 687.4 356.9 687.7 363.2 687.9 361.1 688.1 365.4 688.3 363.2 688.5 356.1 688.7 368.4 688.9 358.5 689.2 365.6 689.4 349.7 689.6 368.0 689.8 370.4 690.0 361.8 690.2 372.8 690.4 367.9 690.7 379.3 690.9 374.4 691.1 361.2 691.3 370.0 691.5 358.4 691.7 367.3 691.9 372.3 692.2 374.2 692.4 367.6 692.6 366.7 692.8 369.0 693.0 363.4 693.2 369.9 693.4 375.0 693.7 367.7 693.9 371.8 694.1 360.1 694.3 361.5 694.5 366.7 694.7 378.5 694.9 372.4 695.2 377.8 695.4 367.8 695.6 375.6 695.8 355.7 696.0 371.6 696.2 353.9 696.4 375.8 696.7 371.3 696.9 375.7 697.1 371.3 697.3 366.6 697.5 364.5 697.7 370.3 697.9 380.4 698.2 376.5 698.4 368.7 698.6 366.4 698.8 365.2 699.0 368.4 699.2 368.3 699.4 365.7 699.7 367.8 699.9 356.6 700.1 379.9 700.3 370.3 700.5 374.7 700.7 371.3 700.9 367.3 701.2 369.3 701.4 370.8 701.6 364.9 701.8 366.2 702.0 382.0 702.2 377.1 702.4 366.8 702.7 373.1 702.9 364.2 703.1 379.4 703.3 364.4 703.5 377.0 703.7 369.3 703.9 368.8 704.1 361.2 704.4 364.8 704.6 361.8 704.8 362.1 705.0 371.1 705.2 384.4 705.4 365.2 705.6 373.4 705.9 365.6 706.1 361.9 706.3 376.3 706.5 372.4 706.7 376.2 706.9 368.3 707.1 368.5 707.4 362.9 707.6 366.7 707.8 380.2 708.0 354.1 708.2 371.8 708.4 379.1 708.6 374.1 708.9 375.1 709.1 368.1 709.3 377.7 709.5 378.0 709.7 369.3 709.9 374.0 710.1 365.9 710.4 352.9 710.6 369.6 710.8 370.0 711.0 364.4 711.2 367.2 711.4 367.9 711.6 359.8 711.9 381.3 712.1 373.5 712.3 392.6 712.5 373.0 712.7 374.2 712.9 361.5 713.1 378.8 713.4 365.7 713.6 378.0 713.8 380.6 714.0 377.8 714.2 366.8 714.4 367.1 714.6 378.7 714.9 381.2 715.1 383.1 715.3 372.8 715.5 372.3 715.7 382.5 715.9 366.2 716.1 376.3 716.4 369.9 716.6 362.8 716.8 364.6 717.0 374.7 717.2 371.6 717.4 372.5 717.6 369.2 717.9 368.9 718.1 373.4 718.3 370.9 718.5 362.3 718.7 369.6 718.9 384.0 719.1 376.7 719.4 377.5 719.6 373.0 719.8 379.3 720.0 369.0 720.2 367.8 720.4 380.2 720.6 374.6 720.9 379.3 721.1 379.1 721.3 387.3 721.5 383.2 721.7 383.3 721.9 375.4 722.1 371.9 722.4 377.0" stroke="#f40000" stroke-width="1.8"/>
</g>
<line x1="123.30" y1="74.30" x2="123.30" y2="563.50" stroke="#1a1a1a" stroke-width="2.0" stroke-linecap="butt"/>
<line x1="122.30" y1="562.50" x2="723.60" y2="562.50" stroke="#1a1a1a" stroke-width="2.0" stroke-linecap="butt"/>
<line x1="114.30" y1="550.60" x2="123.30" y2="550.60" stroke="#1a1a1a" stroke-width="2.0" stroke-linecap="butt"/>
<text x="107.50" y="556.90" font-size="21.0" text-anchor="end" >2000</text>
<line x1="114.30" y1="504.16" x2="123.30" y2="504.16" stroke="#1a1a1a" stroke-width="2.0" stroke-linecap="butt"/>
<text x="107.50" y="510.46" font-size="21.0" text-anchor="end" >4000</text>
<line x1="114.30" y1="457.72" x2="123.30" y2="457.72" stroke="#1a1a1a" stroke-width="2.0" stroke-linecap="butt"/>
<text x="107.50" y="464.02" font-size="21.0" text-anchor="end" >6000</text>
<line x1="114.30" y1="411.28" x2="123.30" y2="411.28" stroke="#1a1a1a" stroke-width="2.0" stroke-linecap="butt"/>
<text x="107.50" y="417.58" font-size="21.0" text-anchor="end" >8000</text>
<line x1="114.30" y1="364.84" x2="123.30" y2="364.84" stroke="#1a1a1a" stroke-width="2.0" stroke-linecap="butt"/>
<text x="107.50" y="371.14" font-size="21.0" text-anchor="end" >10000</text>
<line x1="114.30" y1="318.40" x2="123.30" y2="318.40" stroke="#1a1a1a" stroke-width="2.0" stroke-linecap="butt"/>
<text x="107.50" y="324.70" font-size="21.0" text-anchor="end" >12000</text>
<line x1="114.30" y1="271.96" x2="123.30" y2="271.96" stroke="#1a1a1a" stroke-width="2.0" stroke-linecap="butt"/>
<text x="107.50" y="278.26" font-size="21.0" text-anchor="end" >14000</text>
<line x1="114.30" y1="225.52" x2="123.30" y2="225.52" stroke="#1a1a1a" stroke-width="2.0" stroke-linecap="butt"/>
<text x="107.50" y="231.82" font-size="21.0" text-anchor="end" >16000</text>
<line x1="114.30" y1="179.08" x2="123.30" y2="179.08" stroke="#1a1a1a" stroke-width="2.0" stroke-linecap="butt"/>
<text x="107.50" y="185.38" font-size="21.0" text-anchor="end" >18000</text>
<line x1="114.30" y1="132.64" x2="123.30" y2="132.64" stroke="#1a1a1a" stroke-width="2.0" stroke-linecap="butt"/>
<text x="107.50" y="138.94" font-size="21.0" text-anchor="end" >20000</text>
<line x1="114.30" y1="86.20" x2="123.30" y2="86.20" stroke="#1a1a1a" stroke-width="2.0" stroke-linecap="butt"/>
<text x="107.50" y="92.50" font-size="21.0" text-anchor="end" >22000</text>
<line x1="118.80" y1="527.38" x2="123.30" y2="527.38" stroke="#1a1a1a" stroke-width="2.0" stroke-linecap="butt"/>
<line x1="118.80" y1="480.94" x2="123.30" y2="480.94" stroke="#1a1a1a" stroke-width="2.0" stroke-linecap="butt"/>
<line x1="118.80" y1="434.50" x2="123.30" y2="434.50" stroke="#1a1a1a" stroke-width="2.0" stroke-linecap="butt"/>
<line x1="118.80" y1="388.06" x2="123.30" y2="388.06" stroke="#1a1a1a" stroke-width="2.0" stroke-linecap="butt"/>
<line x1="118.80" y1="341.62" x2="123.30" y2="341.62" stroke="#1a1a1a" stroke-width="2.0" stroke-linecap="butt"/>
<line x1="118.80" y1="295.18" x2="123.30" y2="295.18" stroke="#1a1a1a" stroke-width="2.0" stroke-linecap="butt"/>
<line x1="118.80" y1="248.74" x2="123.30" y2="248.74" stroke="#1a1a1a" stroke-width="2.0" stroke-linecap="butt"/>
<line x1="118.80" y1="202.30" x2="123.30" y2="202.30" stroke="#1a1a1a" stroke-width="2.0" stroke-linecap="butt"/>
<line x1="118.80" y1="155.86" x2="123.30" y2="155.86" stroke="#1a1a1a" stroke-width="2.0" stroke-linecap="butt"/>
<line x1="118.80" y1="109.42" x2="123.30" y2="109.42" stroke="#1a1a1a" stroke-width="2.0" stroke-linecap="butt"/>
<line x1="122.80" y1="562.50" x2="122.80" y2="571.50" stroke="#1a1a1a" stroke-width="2.0" stroke-linecap="butt"/>
<text x="122.80" y="594.80" font-size="21.0" text-anchor="middle" >5</text>
<line x1="208.45" y1="562.50" x2="208.45" y2="571.50" stroke="#1a1a1a" stroke-width="2.0" stroke-linecap="butt"/>
<text x="208.45" y="594.80" font-size="21.0" text-anchor="middle" >10</text>
<line x1="294.10" y1="562.50" x2="294.10" y2="571.50" stroke="#1a1a1a" stroke-width="2.0" stroke-linecap="butt"/>
<text x="294.10" y="594.80" font-size="21.0" text-anchor="middle" >15</text>
<line x1="379.75" y1="562.50" x2="379.75" y2="571.50" stroke="#1a1a1a" stroke-width="2.0" stroke-linecap="butt"/>
<text x="379.75" y="594.80" font-size="21.0" text-anchor="middle" >20</text>
<line x1="465.40" y1="562.50" x2="465.40" y2="571.50" stroke="#1a1a1a" stroke-width="2.0" stroke-linecap="butt"/>
<text x="465.40" y="594.80" font-size="21.0" text-anchor="middle" >25</text>
<line x1="551.05" y1="562.50" x2="551.05" y2="571.50" stroke="#1a1a1a" stroke-width="2.0" stroke-linecap="butt"/>
<text x="551.05" y="594.80" font-size="21.0" text-anchor="middle" >30</text>
<line x1="636.70" y1="562.50" x2="636.70" y2="571.50" stroke="#1a1a1a" stroke-width="2.0" stroke-linecap="butt"/>
<text x="636.70" y="594.80" font-size="21.0" text-anchor="middle" >35</text>
<line x1="722.35" y1="562.50" x2="722.35" y2="571.50" stroke="#1a1a1a" stroke-width="2.0" stroke-linecap="butt"/>
<text x="722.35" y="594.80" font-size="21.0" text-anchor="middle" >40</text>
<line x1="165.62" y1="562.50" x2="165.62" y2="567.00" stroke="#1a1a1a" stroke-width="2.0" stroke-linecap="butt"/>
<line x1="251.27" y1="562.50" x2="251.27" y2="567.00" stroke="#1a1a1a" stroke-width="2.0" stroke-linecap="butt"/>
<line x1="336.93" y1="562.50" x2="336.93" y2="567.00" stroke="#1a1a1a" stroke-width="2.0" stroke-linecap="butt"/>
<line x1="422.57" y1="562.50" x2="422.57" y2="567.00" stroke="#1a1a1a" stroke-width="2.0" stroke-linecap="butt"/>
<line x1="508.22" y1="562.50" x2="508.22" y2="567.00" stroke="#1a1a1a" stroke-width="2.0" stroke-linecap="butt"/>
<line x1="593.88" y1="562.50" x2="593.88" y2="567.00" stroke="#1a1a1a" stroke-width="2.0" stroke-linecap="butt"/>
<line x1="679.52" y1="562.50" x2="679.52" y2="567.00" stroke="#1a1a1a" stroke-width="2.0" stroke-linecap="butt"/>
<text x="423.00" y="634.70" font-size="25.3" text-anchor="middle" >Diffraction angles (2<tspan font-style="italic">θ</tspan>)</text>
<text x="0" y="0" font-size="25.3" text-anchor="middle" transform="translate(27.80,317.40) rotate(-90)">Relative intensity</text>
<line x1="569.50" y1="516.20" x2="615.70" y2="516.20" stroke="#2a9a2a" stroke-width="2.2" stroke-linecap="butt"/>
<line x1="569.50" y1="542.50" x2="615.70" y2="542.50" stroke="#e02020" stroke-width="2.2" stroke-linecap="butt"/>
<text x="621.50" y="522.80" font-size="21.2" text-anchor="start" >HMT-rice</text>
<text x="621.50" y="549.10" font-size="21.2" text-anchor="start" >UT-rice</text>
<text x="85.50" y="37.70" font-size="42" text-anchor="middle" ><tspan font-weight="normal">(</tspan>A<tspan font-weight="normal">)</tspan></text>
<rect x="1001.50" y="393.30" width="123.00" height="170.70" fill="#fa0000" stroke="#000" stroke-width="3"/>
<rect x="1308.50" y="195.40" width="123.00" height="368.60" fill="#009300" stroke="#000" stroke-width="3"/>
<line x1="1063.00" y1="347.60" x2="1063.00" y2="440.60" stroke="#000" stroke-width="2.3" stroke-linecap="butt"/>
<line x1="1056.00" y1="347.60" x2="1070.00" y2="347.60" stroke="#000" stroke-width="2.3" stroke-linecap="butt"/>
<line x1="1056.00" y1="440.60" x2="1070.00" y2="440.60" stroke="#000" stroke-width="2.3" stroke-linecap="butt"/>
<line x1="1370.00" y1="123.70" x2="1370.00" y2="268.00" stroke="#000" stroke-width="2.3" stroke-linecap="butt"/>
<line x1="1363.00" y1="123.70" x2="1377.00" y2="123.70" stroke="#000" stroke-width="2.3" stroke-linecap="butt"/>
<line x1="1363.00" y1="268.00" x2="1377.00" y2="268.00" stroke="#000" stroke-width="2.3" stroke-linecap="butt"/>
<text x="1370.60" y="116.30" font-size="28.6" text-anchor="middle" stroke="#000" stroke-width="0.6" style="font-family:'IPAGothic',sans-serif;font-weight:normal">*</text>
<line x1="909.50" y1="74.30" x2="909.50" y2="565.00" stroke="#1a1a1a" stroke-width="2.0" stroke-linecap="butt"/>
<line x1="908.50" y1="564.00" x2="1524.70" y2="564.00" stroke="#1a1a1a" stroke-width="2.0" stroke-linecap="butt"/>
<line x1="900.50" y1="564.00" x2="909.50" y2="564.00" stroke="#1a1a1a" stroke-width="2.0" stroke-linecap="butt"/>
<text x="893.50" y="570.60" font-size="21.5" text-anchor="end" >0.00</text>
<line x1="900.50" y1="517.40" x2="909.50" y2="517.40" stroke="#1a1a1a" stroke-width="2.0" stroke-linecap="butt"/>
<text x="893.50" y="524.00" font-size="21.5" text-anchor="end" >0.02</text>
<line x1="900.50" y1="470.80" x2="909.50" y2="470.80" stroke="#1a1a1a" stroke-width="2.0" stroke-linecap="butt"/>
<text x="893.50" y="477.40" font-size="21.5" text-anchor="end" >0.04</text>
<line x1="900.50" y1="424.20" x2="909.50" y2="424.20" stroke="#1a1a1a" stroke-width="2.0" stroke-linecap="butt"/>
<text x="893.50" y="430.80" font-size="21.5" text-anchor="end" >0.06</text>
<line x1="900.50" y1="377.60" x2="909.50" y2="377.60" stroke="#1a1a1a" stroke-width="2.0" stroke-linecap="butt"/>
<text x="893.50" y="384.20" font-size="21.5" text-anchor="end" >0.08</text>
<line x1="900.50" y1="331.00" x2="909.50" y2="331.00" stroke="#1a1a1a" stroke-width="2.0" stroke-linecap="butt"/>
<text x="893.50" y="337.60" font-size="21.5" text-anchor="end" >0.10</text>
<line x1="900.50" y1="284.40" x2="909.50" y2="284.40" stroke="#1a1a1a" stroke-width="2.0" stroke-linecap="butt"/>
<text x="893.50" y="291.00" font-size="21.5" text-anchor="end" >0.12</text>
<line x1="900.50" y1="237.80" x2="909.50" y2="237.80" stroke="#1a1a1a" stroke-width="2.0" stroke-linecap="butt"/>
<text x="893.50" y="244.40" font-size="21.5" text-anchor="end" >0.14</text>
<line x1="900.50" y1="191.20" x2="909.50" y2="191.20" stroke="#1a1a1a" stroke-width="2.0" stroke-linecap="butt"/>
<text x="893.50" y="197.80" font-size="21.5" text-anchor="end" >0.16</text>
<line x1="900.50" y1="144.60" x2="909.50" y2="144.60" stroke="#1a1a1a" stroke-width="2.0" stroke-linecap="butt"/>
<text x="893.50" y="151.20" font-size="21.5" text-anchor="end" >0.18</text>
<line x1="900.50" y1="98.00" x2="909.50" y2="98.00" stroke="#1a1a1a" stroke-width="2.0" stroke-linecap="butt"/>
<text x="893.50" y="104.60" font-size="21.5" text-anchor="end" >0.20</text>
<line x1="905.00" y1="540.70" x2="909.50" y2="540.70" stroke="#1a1a1a" stroke-width="2.0" stroke-linecap="butt"/>
<line x1="905.00" y1="494.10" x2="909.50" y2="494.10" stroke="#1a1a1a" stroke-width="2.0" stroke-linecap="butt"/>
<line x1="905.00" y1="447.50" x2="909.50" y2="447.50" stroke="#1a1a1a" stroke-width="2.0" stroke-linecap="butt"/>
<line x1="905.00" y1="400.90" x2="909.50" y2="400.90" stroke="#1a1a1a" stroke-width="2.0" stroke-linecap="butt"/>
<line x1="905.00" y1="354.30" x2="909.50" y2="354.30" stroke="#1a1a1a" stroke-width="2.0" stroke-linecap="butt"/>
<line x1="905.00" y1="307.70" x2="909.50" y2="307.70" stroke="#1a1a1a" stroke-width="2.0" stroke-linecap="butt"/>
<line x1="905.00" y1="261.10" x2="909.50" y2="261.10" stroke="#1a1a1a" stroke-width="2.0" stroke-linecap="butt"/>
<line x1="905.00" y1="214.50" x2="909.50" y2="214.50" stroke="#1a1a1a" stroke-width="2.0" stroke-linecap="butt"/>
<line x1="905.00" y1="167.90" x2="909.50" y2="167.90" stroke="#1a1a1a" stroke-width="2.0" stroke-linecap="butt"/>
<line x1="905.00" y1="121.30" x2="909.50" y2="121.30" stroke="#1a1a1a" stroke-width="2.0" stroke-linecap="butt"/>
<line x1="905.00" y1="74.70" x2="909.50" y2="74.70" stroke="#1a1a1a" stroke-width="2.0" stroke-linecap="butt"/>
<line x1="1063.00" y1="564.00" x2="1063.00" y2="572.50" stroke="#1a1a1a" stroke-width="2.0" stroke-linecap="butt"/>
<line x1="1370.00" y1="564.00" x2="1370.00" y2="572.50" stroke="#1a1a1a" stroke-width="2.0" stroke-linecap="butt"/>
<line x1="909.50" y1="564.00" x2="909.50" y2="568.50" stroke="#1a1a1a" stroke-width="2.0" stroke-linecap="butt"/>
<line x1="1216.50" y1="564.00" x2="1216.50" y2="568.50" stroke="#1a1a1a" stroke-width="2.0" stroke-linecap="butt"/>
<line x1="1523.70" y1="564.00" x2="1523.70" y2="568.50" stroke="#1a1a1a" stroke-width="2.0" stroke-linecap="butt"/>
<text x="1063.50" y="596.60" font-size="21.5" text-anchor="middle" >UT-rice</text>
<text x="1370.20" y="596.60" font-size="21.5" text-anchor="middle" >HMT-rice</text>
<text x="0" y="0" font-size="25.3" text-anchor="middle" transform="translate(836.00,318.30) rotate(-90)">Resistant starch content</text>
<text x="873.00" y="40.00" font-size="42" text-anchor="middle" ><tspan font-weight="normal">(</tspan>B<tspan font-weight="normal">)</tspan></text>
<line x1="164.00" y1="1152.17" x2="164.00" y2="1181.85" stroke="#1d9a1d" stroke-width="2.1" stroke-linecap="butt"/>
<line x1="158.00" y1="1152.17" x2="170.00" y2="1152.17" stroke="#1d9a1d" stroke-width="2.1" stroke-linecap="butt"/>
<line x1="158.00" y1="1181.85" x2="170.00" y2="1181.85" stroke="#1d9a1d" stroke-width="2.1" stroke-linecap="butt"/>
<line x1="293.30" y1="980.35" x2="293.30" y2="1047.51" stroke="#1d9a1d" stroke-width="2.1" stroke-linecap="butt"/>
<line x1="287.30" y1="980.35" x2="299.30" y2="980.35" stroke="#1d9a1d" stroke-width="2.1" stroke-linecap="butt"/>
<line x1="287.30" y1="1047.51" x2="299.30" y2="1047.51" stroke="#1d9a1d" stroke-width="2.1" stroke-linecap="butt"/>
<line x1="422.60" y1="921.77" x2="422.60" y2="1056.11" stroke="#1d9a1d" stroke-width="2.1" stroke-linecap="butt"/>
<line x1="416.60" y1="921.77" x2="428.60" y2="921.77" stroke="#1d9a1d" stroke-width="2.1" stroke-linecap="butt"/>
<line x1="416.60" y1="1056.11" x2="428.60" y2="1056.11" stroke="#1d9a1d" stroke-width="2.1" stroke-linecap="butt"/>
<line x1="681.20" y1="1131.86" x2="681.20" y2="1205.28" stroke="#1d9a1d" stroke-width="2.1" stroke-linecap="butt"/>
<line x1="675.20" y1="1131.86" x2="687.20" y2="1131.86" stroke="#1d9a1d" stroke-width="2.1" stroke-linecap="butt"/>
<line x1="675.20" y1="1205.28" x2="687.20" y2="1205.28" stroke="#1d9a1d" stroke-width="2.1" stroke-linecap="butt"/>
<polyline points="164.0,1167.0 293.3,1013.9 422.6,988.9 681.2,1168.6" fill="none" stroke="#0b8a0b" stroke-width="4.5" stroke-linejoin="round"/>
<circle cx="164.0" cy="1167.0" r="5.5" fill="#0a8f0a"/>
<circle cx="293.3" cy="1013.9" r="5.5" fill="#0a8f0a"/>
<circle cx="422.6" cy="988.9" r="5.5" fill="#0a8f0a"/>
<circle cx="681.2" cy="1168.6" r="5.5" fill="#0a8f0a"/>
<line x1="164.00" y1="1135.77" x2="164.00" y2="1177.16" stroke="#ff2626" stroke-width="2.1" stroke-linecap="butt"/>
<line x1="158.00" y1="1135.77" x2="170.00" y2="1135.77" stroke="#ff2626" stroke-width="2.1" stroke-linecap="butt"/>
<line x1="158.00" y1="1177.16" x2="170.00" y2="1177.16" stroke="#ff2626" stroke-width="2.1" stroke-linecap="butt"/>
<line x1="293.30" y1="885.07" x2="293.30" y2="980.35" stroke="#ff2626" stroke-width="2.1" stroke-linecap="butt"/>
<line x1="287.30" y1="885.07" x2="299.30" y2="885.07" stroke="#ff2626" stroke-width="2.1" stroke-linecap="butt"/>
<line x1="287.30" y1="980.35" x2="299.30" y2="980.35" stroke="#ff2626" stroke-width="2.1" stroke-linecap="butt"/>
<line x1="422.60" y1="795.25" x2="422.60" y2="936.61" stroke="#ff2626" stroke-width="2.1" stroke-linecap="butt"/>
<line x1="416.60" y1="795.25" x2="428.60" y2="795.25" stroke="#ff2626" stroke-width="2.1" stroke-linecap="butt"/>
<line x1="416.60" y1="936.61" x2="428.60" y2="936.61" stroke="#ff2626" stroke-width="2.1" stroke-linecap="butt"/>
<line x1="681.20" y1="1078.75" x2="681.20" y2="1189.66" stroke="#ff2626" stroke-width="2.1" stroke-linecap="butt"/>
<line x1="675.20" y1="1078.75" x2="687.20" y2="1078.75" stroke="#ff2626" stroke-width="2.1" stroke-linecap="butt"/>
<line x1="675.20" y1="1189.66" x2="687.20" y2="1189.66" stroke="#ff2626" stroke-width="2.1" stroke-linecap="butt"/>
<polyline points="164.0,1156.9 293.3,932.7 422.6,866.3 681.2,1134.2" fill="none" stroke="#ef3c4a" stroke-width="4.2" stroke-linejoin="round"/>
<rect x="159.0" y="1151.9" width="10" height="10" fill="#ff0000"/>
<rect x="288.3" y="927.7" width="10" height="10" fill="#ff0000"/>
<rect x="417.6" y="861.3" width="10" height="10" fill="#ff0000"/>
<rect x="676.2" y="1129.2" width="10" height="10" fill="#ff0000"/>
<text x="308.00" y="1005.60" font-size="33" text-anchor="middle" stroke="#000" stroke-width="0.6" style="font-family:'IPAGothic',sans-serif;font-weight:normal">*</text>
<text x="440.30" y="990.70" font-size="33" text-anchor="middle" stroke="#000" stroke-width="0.6" style="font-family:'IPAGothic',sans-serif;font-weight:normal">*</text>
<line x1="120.70" y1="723.00" x2="120.70" y2="1232.60" stroke="#1a1a1a" stroke-width="2.0" stroke-linecap="butt"/>
<line x1="116.20" y1="1231.60" x2="725.80" y2="1231.60" stroke="#1a1a1a" stroke-width="2.0" stroke-linecap="butt"/>
<line x1="111.70" y1="1192.00" x2="120.70" y2="1192.00" stroke="#1a1a1a" stroke-width="2.0" stroke-linecap="butt"/>
<text x="105.50" y="1198.80" font-size="21.2" text-anchor="end" >4</text>
<line x1="111.70" y1="1113.90" x2="120.70" y2="1113.90" stroke="#1a1a1a" stroke-width="2.0" stroke-linecap="butt"/>
<text x="105.50" y="1120.70" font-size="21.2" text-anchor="end" >5</text>
<line x1="111.70" y1="1035.80" x2="120.70" y2="1035.80" stroke="#1a1a1a" stroke-width="2.0" stroke-linecap="butt"/>
<text x="105.50" y="1042.60" font-size="21.2" text-anchor="end" >6</text>
<line x1="111.70" y1="957.70" x2="120.70" y2="957.70" stroke="#1a1a1a" stroke-width="2.0" stroke-linecap="butt"/>
<text x="105.50" y="964.50" font-size="21.2" text-anchor="end" >7</text>
<line x1="111.70" y1="879.60" x2="120.70" y2="879.60" stroke="#1a1a1a" stroke-width="2.0" stroke-linecap="butt"/>
<text x="105.50" y="886.40" font-size="21.2" text-anchor="end" >8</text>
<line x1="111.70" y1="801.50" x2="120.70" y2="801.50" stroke="#1a1a1a" stroke-width="2.0" stroke-linecap="butt"/>
<text x="105.50" y="808.30" font-size="21.2" text-anchor="end" >9</text>
<line x1="111.70" y1="723.40" x2="120.70" y2="723.40" stroke="#1a1a1a" stroke-width="2.0" stroke-linecap="butt"/>
<text x="105.50" y="730.20" font-size="21.2" text-anchor="end" >10</text>
<line x1="116.20" y1="1152.95" x2="120.70" y2="1152.95" stroke="#1a1a1a" stroke-width="2.0" stroke-linecap="butt"/>
<line x1="116.20" y1="1074.85" x2="120.70" y2="1074.85" stroke="#1a1a1a" stroke-width="2.0" stroke-linecap="butt"/>
<line x1="116.20" y1="996.75" x2="120.70" y2="996.75" stroke="#1a1a1a" stroke-width="2.0" stroke-linecap="butt"/>
<line x1="116.20" y1="918.65" x2="120.70" y2="918.65" stroke="#1a1a1a" stroke-width="2.0" stroke-linecap="butt"/>
<line x1="116.20" y1="840.55" x2="120.70" y2="840.55" stroke="#1a1a1a" stroke-width="2.0" stroke-linecap="butt"/>
<line x1="116.20" y1="762.45" x2="120.70" y2="762.45" stroke="#1a1a1a" stroke-width="2.0" stroke-linecap="butt"/>
<line x1="164.00" y1="1231.60" x2="164.00" y2="1240.60" stroke="#1a1a1a" stroke-width="2.0" stroke-linecap="butt"/>
<text x="164.00" y="1266.00" font-size="21.2" text-anchor="middle" >0</text>
<line x1="250.20" y1="1231.60" x2="250.20" y2="1240.60" stroke="#1a1a1a" stroke-width="2.0" stroke-linecap="butt"/>
<text x="250.20" y="1266.00" font-size="21.2" text-anchor="middle" >20</text>
<line x1="336.40" y1="1231.60" x2="336.40" y2="1240.60" stroke="#1a1a1a" stroke-width="2.0" stroke-linecap="butt"/>
<text x="336.40" y="1266.00" font-size="21.2" text-anchor="middle" >40</text>
<line x1="422.60" y1="1231.60" x2="422.60" y2="1240.60" stroke="#1a1a1a" stroke-width="2.0" stroke-linecap="butt"/>
<text x="422.60" y="1266.00" font-size="21.2" text-anchor="middle" >60</text>
<line x1="508.80" y1="1231.60" x2="508.80" y2="1240.60" stroke="#1a1a1a" stroke-width="2.0" stroke-linecap="butt"/>
<text x="508.80" y="1266.00" font-size="21.2" text-anchor="middle" >80</text>
<line x1="595.00" y1="1231.60" x2="595.00" y2="1240.60" stroke="#1a1a1a" stroke-width="2.0" stroke-linecap="butt"/>
<text x="595.00" y="1266.00" font-size="21.2" text-anchor="middle" >100</text>
<line x1="681.20" y1="1231.60" x2="681.20" y2="1240.60" stroke="#1a1a1a" stroke-width="2.0" stroke-linecap="butt"/>
<text x="681.20" y="1266.00" font-size="21.2" text-anchor="middle" >120</text>
<line x1="120.90" y1="1231.60" x2="120.90" y2="1236.10" stroke="#1a1a1a" stroke-width="2.0" stroke-linecap="butt"/>
<line x1="207.10" y1="1231.60" x2="207.10" y2="1236.10" stroke="#1a1a1a" stroke-width="2.0" stroke-linecap="butt"/>
<line x1="293.30" y1="1231.60" x2="293.30" y2="1236.10" stroke="#1a1a1a" stroke-width="2.0" stroke-linecap="butt"/>
<line x1="379.50" y1="1231.60" x2="379.50" y2="1236.10" stroke="#1a1a1a" stroke-width="2.0" stroke-linecap="butt"/>
<line x1="465.70" y1="1231.60" x2="465.70" y2="1236.10" stroke="#1a1a1a" stroke-width="2.0" stroke-linecap="butt"/>
<line x1="551.90" y1="1231.60" x2="551.90" y2="1236.10" stroke="#1a1a1a" stroke-width="2.0" stroke-linecap="butt"/>
<line x1="638.10" y1="1231.60" x2="638.10" y2="1236.10" stroke="#1a1a1a" stroke-width="2.0" stroke-linecap="butt"/>
<line x1="724.30" y1="1231.60" x2="724.30" y2="1236.10" stroke="#1a1a1a" stroke-width="2.0" stroke-linecap="butt"/>
<text x="423.00" y="1306.80" font-size="25.3" text-anchor="middle" >Time (min)</text>
<text x="0" y="0" font-size="26.5" text-anchor="middle" transform="translate(74.00,977.00) rotate(-90)">Blood glucose (mmol/L)</text>
<line x1="504.60" y1="1183.30" x2="553.50" y2="1183.30" stroke="#0b8a0b" stroke-width="4.5" stroke-linecap="butt"/>
<circle cx="529.6" cy="1183.3" r="5.5" fill="#0a8f0a"/>
<line x1="504.60" y1="1210.80" x2="553.50" y2="1210.80" stroke="#ef3c4a" stroke-width="4.2" stroke-linecap="butt"/>
<rect x="524.6" y="1205.8" width="10" height="10" fill="#ff0000"/>
<text x="558.70" y="1190.50" font-size="21.2" text-anchor="start" >HMT-rice</text>
<text x="558.70" y="1218.00" font-size="21.2" text-anchor="start" >UT-rice</text>
<text x="85.50" y="686.00" font-size="42" text-anchor="middle" ><tspan font-weight="normal">(</tspan>C<tspan font-weight="normal">)</tspan></text>
<rect x="1003.00" y="827.49" width="123.80" height="406.71" fill="#fa0000" stroke="#000" stroke-width="3"/>
<rect x="1310.00" y="888.22" width="123.00" height="345.98" fill="#009300" stroke="#000" stroke-width="3"/>
<line x1="1065.00" y1="784.63" x2="1065.00" y2="870.36" stroke="#000" stroke-width="2.3" stroke-linecap="butt"/>
<line x1="1058.00" y1="784.63" x2="1072.00" y2="784.63" stroke="#000" stroke-width="2.3" stroke-linecap="butt"/>
<line x1="1058.00" y1="870.36" x2="1072.00" y2="870.36" stroke="#000" stroke-width="2.3" stroke-linecap="butt"/>
<line x1="1371.90" y1="853.01" x2="1371.90" y2="923.43" stroke="#000" stroke-width="2.3" stroke-linecap="butt"/>
<line x1="1364.90" y1="853.01" x2="1378.90" y2="853.01" stroke="#000" stroke-width="2.3" stroke-linecap="butt"/>
<line x1="1364.90" y1="923.43" x2="1378.90" y2="923.43" stroke="#000" stroke-width="2.3" stroke-linecap="butt"/>
<text x="1372.50" y="845.30" font-size="28.6" text-anchor="middle" stroke="#000" stroke-width="0.6" style="font-family:'IPAGothic',sans-serif;font-weight:normal">*</text>
<line x1="911.30" y1="723.00" x2="911.30" y2="1235.20" stroke="#1a1a1a" stroke-width="2.0" stroke-linecap="butt"/>
<line x1="910.30" y1="1234.20" x2="1525.70" y2="1234.20" stroke="#1a1a1a" stroke-width="2.0" stroke-linecap="butt"/>
<line x1="902.30" y1="1234.20" x2="911.30" y2="1234.20" stroke="#1a1a1a" stroke-width="2.0" stroke-linecap="butt"/>
<text x="895.80" y="1241.00" font-size="21.2" text-anchor="end" >0</text>
<line x1="902.30" y1="1132.14" x2="911.30" y2="1132.14" stroke="#1a1a1a" stroke-width="2.0" stroke-linecap="butt"/>
<text x="895.80" y="1138.94" font-size="21.2" text-anchor="end" >200</text>
<line x1="902.30" y1="1030.08" x2="911.30" y2="1030.08" stroke="#1a1a1a" stroke-width="2.0" stroke-linecap="butt"/>
<text x="895.80" y="1036.88" font-size="21.2" text-anchor="end" >400</text>
<line x1="902.30" y1="928.02" x2="911.30" y2="928.02" stroke="#1a1a1a" stroke-width="2.0" stroke-linecap="butt"/>
<text x="895.80" y="934.82" font-size="21.2" text-anchor="end" >600</text>
<line x1="902.30" y1="825.96" x2="911.30" y2="825.96" stroke="#1a1a1a" stroke-width="2.0" stroke-linecap="butt"/>
<text x="895.80" y="832.76" font-size="21.2" text-anchor="end" >800</text>
<line x1="902.30" y1="723.90" x2="911.30" y2="723.90" stroke="#1a1a1a" stroke-width="2.0" stroke-linecap="butt"/>
<text x="895.80" y="730.70" font-size="21.2" text-anchor="end" >1000</text>
<line x1="906.80" y1="1183.17" x2="911.30" y2="1183.17" stroke="#1a1a1a" stroke-width="2.0" stroke-linecap="butt"/>
<line x1="906.80" y1="1081.11" x2="911.30" y2="1081.11" stroke="#1a1a1a" stroke-width="2.0" stroke-linecap="butt"/>
<line x1="906.80" y1="979.05" x2="911.30" y2="979.05" stroke="#1a1a1a" stroke-width="2.0" stroke-linecap="butt"/>
<line x1="906.80" y1="876.99" x2="911.30" y2="876.99" stroke="#1a1a1a" stroke-width="2.0" stroke-linecap="butt"/>
<line x1="906.80" y1="774.93" x2="911.30" y2="774.93" stroke="#1a1a1a" stroke-width="2.0" stroke-linecap="butt"/>
<line x1="1064.80" y1="1234.20" x2="1064.80" y2="1242.70" stroke="#1a1a1a" stroke-width="2.0" stroke-linecap="butt"/>
<line x1="1371.50" y1="1234.20" x2="1371.50" y2="1242.70" stroke="#1a1a1a" stroke-width="2.0" stroke-linecap="butt"/>
<line x1="911.30" y1="1234.20" x2="911.30" y2="1238.70" stroke="#1a1a1a" stroke-width="2.0" stroke-linecap="butt"/>
<line x1="1218.00" y1="1234.20" x2="1218.00" y2="1238.70" stroke="#1a1a1a" stroke-width="2.0" stroke-linecap="butt"/>
<line x1="1524.70" y1="1234.20" x2="1524.70" y2="1238.70" stroke="#1a1a1a" stroke-width="2.0" stroke-linecap="butt"/>
<text x="1065.50" y="1268.40" font-size="21.5" text-anchor="middle" >UT-rice</text>
<text x="1372.00" y="1268.40" font-size="21.5" text-anchor="middle" >HMT-rice</text>
<text x="0" y="0" font-size="26.5" text-anchor="middle" transform="translate(842.40,978.40) rotate(-90)">AUC (mmol*min/L)</text>
<text x="882.70" y="686.00" font-size="42" text-anchor="middle" ><tspan font-weight="normal">(</tspan>D<tspan font-weight="normal">)</tspan></text>
</svg></body></html>
